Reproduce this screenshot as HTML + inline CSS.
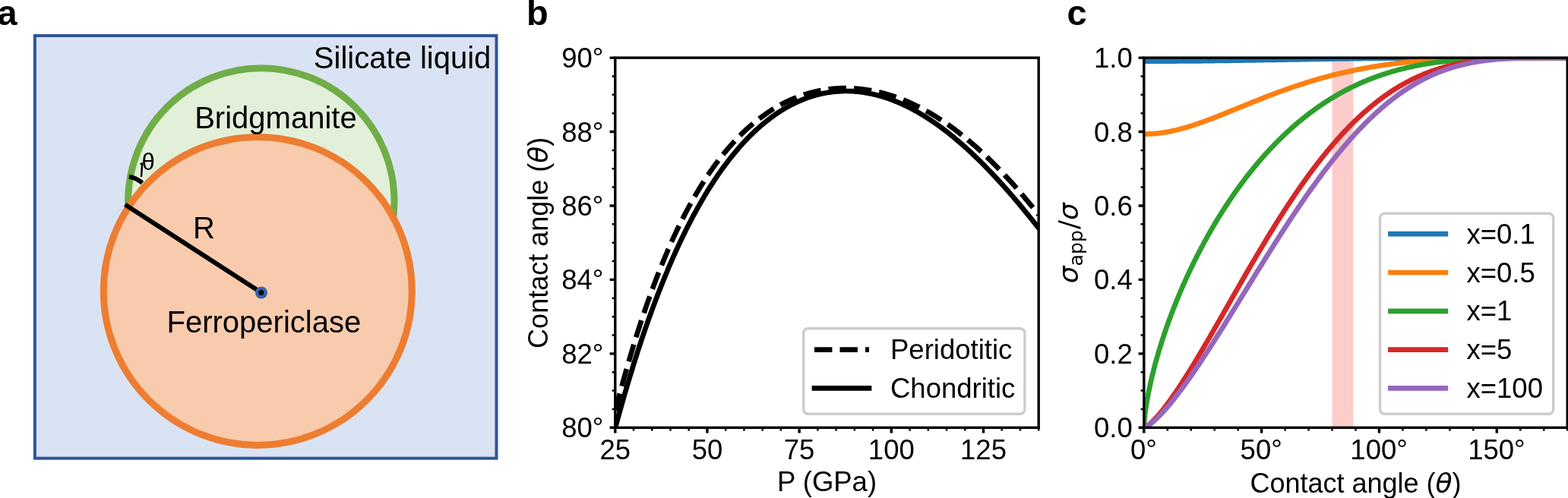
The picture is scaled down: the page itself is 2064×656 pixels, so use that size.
<!DOCTYPE html>
<html><head><meta charset="utf-8"><title>Figure</title>
<style>html,body{margin:0;padding:0;background:#fff;overflow:hidden;}svg{display:block;}</style>
</head><body>
<svg width="2064" height="656" viewBox="0 0 2064 656">
<rect width="2064" height="656" fill="#fff"/>
<g id="pa">
<rect x="45.9" y="47" width="607.6" height="556.7" fill="#DAE3F3" stroke="#2F5597" stroke-width="4"/>
<circle cx="343.8" cy="264.9" r="175.2" fill="#E2F0D9" stroke="#70AD47" stroke-width="9"/>
<circle cx="339.3" cy="383.4" r="203" fill="#F8CBAD" stroke="#ED7D31" stroke-width="9"/>
<line x1="164.6" y1="269.5" x2="344" y2="385.5" stroke="#000" stroke-width="6"/>
<circle cx="344" cy="385.5" r="8" fill="#3B62AB"/>
<circle cx="343.8" cy="385.4" r="3.5" fill="#000"/>
<path d="M170.0,232.6 A38.5,38.5 0 0 1 187.3,241.0" fill="none" stroke="#000" stroke-width="6"/>
<path d="M184.6,216.2 L188.2,215.2 M187.2,215.4 L186,233" fill="none" stroke="#000" stroke-width="2.4"/>
<g font-family="'Liberation Sans', Arial, sans-serif" font-size="40" fill="#000">
<text x="646.3" y="90.3" text-anchor="end">Silicate liquid</text>
<text x="256.2" y="169">Bridgmanite</text>
<text x="219.5" y="438.1">Ferropericlase</text>
<text x="254" y="313.9">R</text>
<text x="186.6" y="224" font-size="31">θ</text>
</g>
</g>
<g id="pb">
<clipPath id="cb"><rect x="809.8" y="76.1" width="557.4000000000001" height="487.19999999999993"/></clipPath>
<g clip-path="url(#cb)">
<path d="M809.8,541.7 L811.2,536.3 L812.6,530.9 L814.0,525.5 L815.4,520.2 L816.8,515.0 L818.2,509.8 L819.6,504.7 L821.0,499.6 L822.4,494.6 L823.8,489.6 L825.2,484.7 L826.6,479.9 L828.0,475.1 L829.4,470.3 L830.8,465.6 L832.2,460.9 L833.5,456.3 L834.9,451.7 L836.3,447.2 L837.7,442.7 L839.1,438.3 L840.5,433.9 L841.9,429.6 L843.3,425.3 L844.7,421.0 L846.1,416.8 L847.5,412.7 L848.9,408.6 L850.3,404.5 L851.7,400.5 L853.1,396.5 L854.5,392.6 L855.9,388.7 L857.3,384.8 L858.7,381.0 L860.1,377.2 L861.5,373.5 L862.9,369.8 L864.3,366.1 L865.7,362.5 L867.1,359.0 L868.5,355.4 L869.9,351.9 L871.3,348.5 L872.7,345.0 L874.1,341.7 L875.5,338.3 L876.9,335.0 L878.3,331.7 L879.6,328.5 L881.0,325.3 L882.4,322.1 L883.8,319.0 L885.2,315.9 L886.6,312.9 L888.0,309.8 L889.4,306.8 L890.8,303.9 L892.2,301.0 L893.6,298.1 L895.0,295.2 L896.4,292.4 L897.8,289.6 L899.2,286.8 L900.6,284.1 L902.0,281.4 L903.4,278.7 L904.8,276.1 L906.2,273.5 L907.6,270.9 L909.0,268.4 L910.4,265.9 L911.8,263.4 L913.2,260.9 L914.6,258.5 L916.0,256.1 L917.4,253.7 L918.8,251.4 L920.2,249.1 L921.6,246.8 L923.0,244.5 L924.4,242.3 L925.8,240.1 L927.1,237.9 L928.5,235.7 L929.9,233.6 L931.3,231.5 L932.7,229.4 L934.1,227.4 L935.5,225.4 L936.9,223.4 L938.3,221.4 L939.7,219.4 L941.1,217.5 L942.5,215.6 L943.9,213.7 L945.3,211.9 L946.7,210.0 L948.1,208.2 L949.5,206.5 L950.9,204.7 L952.3,203.0 L953.7,201.2 L955.1,199.5 L956.5,197.9 L957.9,196.2 L959.3,194.6 L960.7,193.0 L962.1,191.4 L963.5,189.8 L964.9,188.3 L966.3,186.8 L967.7,185.3 L969.1,183.8 L970.5,182.3 L971.9,180.9 L973.2,179.5 L974.6,178.1 L976.0,176.7 L977.4,175.3 L978.8,174.0 L980.2,172.6 L981.6,171.3 L983.0,170.0 L984.4,168.8 L985.8,167.5 L987.2,166.3 L988.6,165.1 L990.0,163.9 L991.4,162.7 L992.8,161.5 L994.2,160.4 L995.6,159.3 L997.0,158.2 L998.4,157.1 L999.8,156.0 L1001.2,155.0 L1002.6,153.9 L1004.0,152.9 L1005.4,151.9 L1006.8,150.9 L1008.2,149.9 L1009.6,149.0 L1011.0,148.0 L1012.4,147.1 L1013.8,146.2 L1015.2,145.3 L1016.6,144.4 L1018.0,143.5 L1019.3,142.7 L1020.7,141.9 L1022.1,141.0 L1023.5,140.2 L1024.9,139.4 L1026.3,138.7 L1027.7,137.9 L1029.1,137.2 L1030.5,136.4 L1031.9,135.7 L1033.3,135.0 L1034.7,134.3 L1036.1,133.7 L1037.5,133.0 L1038.9,132.4 L1040.3,131.7 L1041.7,131.1 L1043.1,130.5 L1044.5,129.9 L1045.9,129.3 L1047.3,128.8 L1048.7,128.2 L1050.1,127.7 L1051.5,127.2 L1052.9,126.6 L1054.3,126.2 L1055.7,125.7 L1057.1,125.2 L1058.5,124.7 L1059.9,124.3 L1061.3,123.9 L1062.7,123.4 L1064.1,123.0 L1065.4,122.6 L1066.8,122.2 L1068.2,121.9 L1069.6,121.5 L1071.0,121.2 L1072.4,120.8 L1073.8,120.5 L1075.2,120.2 L1076.6,119.9 L1078.0,119.6 L1079.4,119.3 L1080.8,119.1 L1082.2,118.8 L1083.6,118.6 L1085.0,118.3 L1086.4,118.1 L1087.8,117.9 L1089.2,117.7 L1090.6,117.5 L1092.0,117.4 L1093.4,117.2 L1094.8,117.1 L1096.2,116.9 L1097.6,116.8 L1099.0,116.7 L1100.4,116.6 L1101.8,116.5 L1103.2,116.4 L1104.6,116.3 L1106.0,116.3 L1107.4,116.2 L1108.8,116.2 L1110.2,116.2 L1111.6,116.1 L1112.9,116.1 L1114.3,116.1 L1115.7,116.2 L1117.1,116.2 L1118.5,116.2 L1119.9,116.3 L1121.3,116.3 L1122.7,116.4 L1124.1,116.5 L1125.5,116.6 L1126.9,116.7 L1128.3,116.8 L1129.7,116.9 L1131.1,117.0 L1132.5,117.2 L1133.9,117.3 L1135.3,117.5 L1136.7,117.7 L1138.1,117.9 L1139.5,118.0 L1140.9,118.3 L1142.3,118.5 L1143.7,118.7 L1145.1,118.9 L1146.5,119.2 L1147.9,119.4 L1149.3,119.7 L1150.7,120.0 L1152.1,120.3 L1153.5,120.6 L1154.9,120.9 L1156.3,121.2 L1157.7,121.5 L1159.0,121.9 L1160.4,122.2 L1161.8,122.6 L1163.2,122.9 L1164.6,123.3 L1166.0,123.7 L1167.4,124.1 L1168.8,124.5 L1170.2,124.9 L1171.6,125.4 L1173.0,125.8 L1174.4,126.3 L1175.8,126.7 L1177.2,127.2 L1178.6,127.7 L1180.0,128.2 L1181.4,128.7 L1182.8,129.2 L1184.2,129.7 L1185.6,130.2 L1187.0,130.8 L1188.4,131.3 L1189.8,131.9 L1191.2,132.5 L1192.6,133.0 L1194.0,133.6 L1195.4,134.2 L1196.8,134.8 L1198.2,135.5 L1199.6,136.1 L1201.0,136.7 L1202.4,137.4 L1203.8,138.1 L1205.1,138.7 L1206.5,139.4 L1207.9,140.1 L1209.3,140.8 L1210.7,141.5 L1212.1,142.2 L1213.5,143.0 L1214.9,143.7 L1216.3,144.5 L1217.7,145.2 L1219.1,146.0 L1220.5,146.8 L1221.9,147.6 L1223.3,148.4 L1224.7,149.2 L1226.1,150.0 L1227.5,150.8 L1228.9,151.7 L1230.3,152.5 L1231.7,153.4 L1233.1,154.3 L1234.5,155.2 L1235.9,156.1 L1237.3,157.0 L1238.7,157.9 L1240.1,158.8 L1241.5,159.7 L1242.9,160.7 L1244.3,161.6 L1245.7,162.6 L1247.1,163.6 L1248.5,164.5 L1249.9,165.5 L1251.2,166.5 L1252.6,167.5 L1254.0,168.6 L1255.4,169.6 L1256.8,170.6 L1258.2,171.7 L1259.6,172.8 L1261.0,173.8 L1262.4,174.9 L1263.8,176.0 L1265.2,177.1 L1266.6,178.2 L1268.0,179.3 L1269.4,180.5 L1270.8,181.6 L1272.2,182.8 L1273.6,183.9 L1275.0,185.1 L1276.4,186.3 L1277.8,187.5 L1279.2,188.7 L1280.6,189.9 L1282.0,191.1 L1283.4,192.3 L1284.8,193.5 L1286.2,194.8 L1287.6,196.1 L1289.0,197.3 L1290.4,198.6 L1291.8,199.9 L1293.2,201.2 L1294.6,202.5 L1296.0,203.8 L1297.4,205.1 L1298.7,206.5 L1300.1,207.8 L1301.5,209.2 L1302.9,210.5 L1304.3,211.9 L1305.7,213.3 L1307.1,214.7 L1308.5,216.1 L1309.9,217.5 L1311.3,218.9 L1312.7,220.3 L1314.1,221.8 L1315.5,223.2 L1316.9,224.7 L1318.3,226.1 L1319.7,227.6 L1321.1,229.1 L1322.5,230.6 L1323.9,232.1 L1325.3,233.6 L1326.7,235.1 L1328.1,236.6 L1329.5,238.2 L1330.9,239.7 L1332.3,241.3 L1333.7,242.8 L1335.1,244.4 L1336.5,246.0 L1337.9,247.6 L1339.3,249.2 L1340.7,250.8 L1342.1,252.4 L1343.5,254.0 L1344.8,255.6 L1346.2,257.3 L1347.6,258.9 L1349.0,260.6 L1350.4,262.3 L1351.8,263.9 L1353.2,265.6 L1354.6,267.3 L1356.0,269.0 L1357.4,270.7 L1358.8,272.4 L1360.2,274.1 L1361.6,275.8 L1363.0,277.6 L1364.4,279.3 L1365.8,281.1 L1367.2,282.8" fill="none" stroke="#000" stroke-width="6.7" stroke-dasharray="23.4 10.1" stroke-dashoffset="-0.8" stroke-linecap="butt" stroke-linejoin="round"/>
<path d="M809.8,564.1 L811.2,558.9 L812.6,553.7 L814.0,548.6 L815.4,543.5 L816.8,538.5 L818.2,533.5 L819.6,528.6 L821.0,523.7 L822.4,518.9 L823.8,514.1 L825.2,509.3 L826.6,504.6 L828.0,499.9 L829.4,495.3 L830.8,490.7 L832.2,486.2 L833.5,481.6 L834.9,477.2 L836.3,472.7 L837.7,468.4 L839.1,464.0 L840.5,459.7 L841.9,455.4 L843.3,451.2 L844.7,447.0 L846.1,442.8 L847.5,438.7 L848.9,434.6 L850.3,430.6 L851.7,426.6 L853.1,422.6 L854.5,418.7 L855.9,414.8 L857.3,410.9 L858.7,407.1 L860.1,403.3 L861.5,399.6 L862.9,395.8 L864.3,392.2 L865.7,388.5 L867.1,384.9 L868.5,381.3 L869.9,377.8 L871.3,374.2 L872.7,370.8 L874.1,367.3 L875.5,363.9 L876.9,360.5 L878.3,357.2 L879.6,353.8 L881.0,350.5 L882.4,347.3 L883.8,344.1 L885.2,340.9 L886.6,337.7 L888.0,334.6 L889.4,331.5 L890.8,328.4 L892.2,325.4 L893.6,322.4 L895.0,319.4 L896.4,316.4 L897.8,313.5 L899.2,310.6 L900.6,307.7 L902.0,304.9 L903.4,302.1 L904.8,299.3 L906.2,296.6 L907.6,293.8 L909.0,291.1 L910.4,288.5 L911.8,285.8 L913.2,283.2 L914.6,280.6 L916.0,278.1 L917.4,275.5 L918.8,273.0 L920.2,270.6 L921.6,268.1 L923.0,265.7 L924.4,263.3 L925.8,260.9 L927.1,258.5 L928.5,256.2 L929.9,253.9 L931.3,251.6 L932.7,249.4 L934.1,247.1 L935.5,244.9 L936.9,242.8 L938.3,240.6 L939.7,238.5 L941.1,236.4 L942.5,234.3 L943.9,232.2 L945.3,230.2 L946.7,228.2 L948.1,226.2 L949.5,224.2 L950.9,222.2 L952.3,220.3 L953.7,218.4 L955.1,216.5 L956.5,214.7 L957.9,212.8 L959.3,211.0 L960.7,209.2 L962.1,207.5 L963.5,205.7 L964.9,204.0 L966.3,202.3 L967.7,200.6 L969.1,198.9 L970.5,197.3 L971.9,195.6 L973.2,194.0 L974.6,192.4 L976.0,190.9 L977.4,189.3 L978.8,187.8 L980.2,186.3 L981.6,184.8 L983.0,183.4 L984.4,181.9 L985.8,180.5 L987.2,179.1 L988.6,177.7 L990.0,176.3 L991.4,175.0 L992.8,173.6 L994.2,172.3 L995.6,171.0 L997.0,169.7 L998.4,168.5 L999.8,167.2 L1001.2,166.0 L1002.6,164.8 L1004.0,163.6 L1005.4,162.5 L1006.8,161.3 L1008.2,160.2 L1009.6,159.1 L1011.0,158.0 L1012.4,156.9 L1013.8,155.8 L1015.2,154.8 L1016.6,153.8 L1018.0,152.8 L1019.3,151.8 L1020.7,150.8 L1022.1,149.8 L1023.5,148.9 L1024.9,147.9 L1026.3,147.0 L1027.7,146.1 L1029.1,145.3 L1030.5,144.4 L1031.9,143.6 L1033.3,142.7 L1034.7,141.9 L1036.1,141.1 L1037.5,140.3 L1038.9,139.6 L1040.3,138.8 L1041.7,138.1 L1043.1,137.4 L1044.5,136.7 L1045.9,136.0 L1047.3,135.3 L1048.7,134.7 L1050.1,134.0 L1051.5,133.4 L1052.9,132.8 L1054.3,132.2 L1055.7,131.6 L1057.1,131.0 L1058.5,130.5 L1059.9,129.9 L1061.3,129.4 L1062.7,128.9 L1064.1,128.4 L1065.4,127.9 L1066.8,127.5 L1068.2,127.0 L1069.6,126.6 L1071.0,126.2 L1072.4,125.8 L1073.8,125.4 L1075.2,125.0 L1076.6,124.6 L1078.0,124.3 L1079.4,124.0 L1080.8,123.6 L1082.2,123.3 L1083.6,123.0 L1085.0,122.7 L1086.4,122.5 L1087.8,122.2 L1089.2,122.0 L1090.6,121.8 L1092.0,121.6 L1093.4,121.4 L1094.8,121.2 L1096.2,121.0 L1097.6,120.8 L1099.0,120.7 L1100.4,120.6 L1101.8,120.4 L1103.2,120.3 L1104.6,120.3 L1106.0,120.2 L1107.4,120.1 L1108.8,120.1 L1110.2,120.0 L1111.6,120.0 L1112.9,120.0 L1114.3,120.0 L1115.7,120.0 L1117.1,120.0 L1118.5,120.1 L1119.9,120.1 L1121.3,120.2 L1122.7,120.2 L1124.1,120.3 L1125.5,120.4 L1126.9,120.6 L1128.3,120.7 L1129.7,120.8 L1131.1,121.0 L1132.5,121.1 L1133.9,121.3 L1135.3,121.5 L1136.7,121.7 L1138.1,121.9 L1139.5,122.1 L1140.9,122.4 L1142.3,122.6 L1143.7,122.9 L1145.1,123.2 L1146.5,123.5 L1147.9,123.7 L1149.3,124.1 L1150.7,124.4 L1152.1,124.7 L1153.5,125.1 L1154.9,125.4 L1156.3,125.8 L1157.7,126.2 L1159.0,126.6 L1160.4,127.0 L1161.8,127.4 L1163.2,127.8 L1164.6,128.3 L1166.0,128.7 L1167.4,129.2 L1168.8,129.7 L1170.2,130.2 L1171.6,130.7 L1173.0,131.2 L1174.4,131.7 L1175.8,132.2 L1177.2,132.8 L1178.6,133.3 L1180.0,133.9 L1181.4,134.5 L1182.8,135.1 L1184.2,135.7 L1185.6,136.3 L1187.0,136.9 L1188.4,137.5 L1189.8,138.2 L1191.2,138.9 L1192.6,139.5 L1194.0,140.2 L1195.4,140.9 L1196.8,141.6 L1198.2,142.3 L1199.6,143.0 L1201.0,143.8 L1202.4,144.5 L1203.8,145.3 L1205.1,146.1 L1206.5,146.8 L1207.9,147.6 L1209.3,148.4 L1210.7,149.3 L1212.1,150.1 L1213.5,150.9 L1214.9,151.8 L1216.3,152.6 L1217.7,153.5 L1219.1,154.4 L1220.5,155.3 L1221.9,156.2 L1223.3,157.1 L1224.7,158.0 L1226.1,158.9 L1227.5,159.9 L1228.9,160.8 L1230.3,161.8 L1231.7,162.8 L1233.1,163.7 L1234.5,164.7 L1235.9,165.7 L1237.3,166.8 L1238.7,167.8 L1240.1,168.8 L1241.5,169.9 L1242.9,170.9 L1244.3,172.0 L1245.7,173.1 L1247.1,174.1 L1248.5,175.2 L1249.9,176.4 L1251.2,177.5 L1252.6,178.6 L1254.0,179.7 L1255.4,180.9 L1256.8,182.0 L1258.2,183.2 L1259.6,184.4 L1261.0,185.6 L1262.4,186.8 L1263.8,188.0 L1265.2,189.2 L1266.6,190.4 L1268.0,191.6 L1269.4,192.9 L1270.8,194.1 L1272.2,195.4 L1273.6,196.7 L1275.0,197.9 L1276.4,199.2 L1277.8,200.5 L1279.2,201.8 L1280.6,203.2 L1282.0,204.5 L1283.4,205.8 L1284.8,207.2 L1286.2,208.5 L1287.6,209.9 L1289.0,211.3 L1290.4,212.6 L1291.8,214.0 L1293.2,215.4 L1294.6,216.8 L1296.0,218.2 L1297.4,219.7 L1298.7,221.1 L1300.1,222.5 L1301.5,224.0 L1302.9,225.4 L1304.3,226.9 L1305.7,228.4 L1307.1,229.9 L1308.5,231.4 L1309.9,232.9 L1311.3,234.4 L1312.7,235.9 L1314.1,237.4 L1315.5,238.9 L1316.9,240.5 L1318.3,242.0 L1319.7,243.6 L1321.1,245.1 L1322.5,246.7 L1323.9,248.3 L1325.3,249.9 L1326.7,251.4 L1328.1,253.0 L1329.5,254.6 L1330.9,256.3 L1332.3,257.9 L1333.7,259.5 L1335.1,261.1 L1336.5,262.8 L1337.9,264.4 L1339.3,266.1 L1340.7,267.7 L1342.1,269.4 L1343.5,271.1 L1344.8,272.8 L1346.2,274.4 L1347.6,276.1 L1349.0,277.8 L1350.4,279.5 L1351.8,281.3 L1353.2,283.0 L1354.6,284.7 L1356.0,286.4 L1357.4,288.2 L1358.8,289.9 L1360.2,291.6 L1361.6,293.4 L1363.0,295.1 L1364.4,296.9 L1365.8,298.7 L1367.2,300.4" fill="none" stroke="#000" stroke-width="6.7" stroke-linecap="square" stroke-linejoin="round"/>
</g>
<path d="M809.80,563.3 v7.2 M930.97,563.3 v7.2 M1052.15,563.3 v7.2 M1173.32,563.3 v7.2 M1294.50,563.3 v7.2" stroke="#000" stroke-width="3.4" fill="none"/>
<path d="M834.03,563.3 v4.2 M858.27,563.3 v4.2 M882.50,563.3 v4.2 M906.74,563.3 v4.2 M955.21,563.3 v4.2 M979.44,563.3 v4.2 M1003.68,563.3 v4.2 M1027.91,563.3 v4.2 M1076.38,563.3 v4.2 M1100.62,563.3 v4.2 M1124.85,563.3 v4.2 M1149.09,563.3 v4.2 M1197.56,563.3 v4.2 M1221.79,563.3 v4.2 M1246.03,563.3 v4.2 M1270.26,563.3 v4.2 M1318.73,563.3 v4.2 M1342.97,563.3 v4.2 M1367.20,563.3 v4.2" stroke="#000" stroke-width="2.5" fill="none"/>
<path d="M809.8,563.30 h-7.2 M809.8,465.86 h-7.2 M809.8,368.42 h-7.2 M809.8,270.98 h-7.2 M809.8,173.54 h-7.2 M809.8,76.10 h-7.2" stroke="#000" stroke-width="3.4" fill="none"/>
<path d="M809.8,538.94 h-4.2 M809.8,514.58 h-4.2 M809.8,490.22 h-4.2 M809.8,441.50 h-4.2 M809.8,417.14 h-4.2 M809.8,392.78 h-4.2 M809.8,344.06 h-4.2 M809.8,319.70 h-4.2 M809.8,295.34 h-4.2 M809.8,246.62 h-4.2 M809.8,222.26 h-4.2 M809.8,197.90 h-4.2 M809.8,149.18 h-4.2 M809.8,124.82 h-4.2 M809.8,100.46 h-4.2" stroke="#000" stroke-width="2.5" fill="none"/>
<rect x="809.8" y="76.1" width="557.40" height="487.20" fill="none" stroke="#000" stroke-width="3.4" stroke-linejoin="miter" stroke-linecap="square"/>
<rect x="1057.7" y="432.8" width="291.2" height="112.5" rx="6" ry="6" fill="#fff" fill-opacity="0.8" stroke="#cccccc" stroke-width="3.4"/>
<path d="M1072,460.6 h72" stroke="#000" stroke-width="6.7" stroke-dasharray="23.4 10.1"/>
<path d="M1072,511.4 h72" stroke="#000" stroke-width="6.7" stroke-linecap="square"/>
<g font-family="'Liberation Sans', Arial, sans-serif" font-size="36.5" fill="#000">
<text x="1172" y="472.9">Peridotitic</text>
<text x="1172" y="524.2">Chondritic</text>
<text x="809.8" y="604.8" text-anchor="middle">25</text>
<text x="931.0" y="604.8" text-anchor="middle">50</text>
<text x="1052.1" y="604.8" text-anchor="middle">75</text>
<text x="1173.3" y="604.8" text-anchor="middle">100</text>
<text x="1294.5" y="604.8" text-anchor="middle">125</text>
<text x="794.4" y="576.3" text-anchor="end">80°</text>
<text x="794.4" y="478.9" text-anchor="end">82°</text>
<text x="794.4" y="381.4" text-anchor="end">84°</text>
<text x="794.4" y="284.0" text-anchor="end">86°</text>
<text x="794.4" y="186.5" text-anchor="end">88°</text>
<text x="794.4" y="89.1" text-anchor="end">90°</text>
<text x="1088.5" y="647" text-anchor="middle">P (GPa)</text>
<text transform="translate(721,319.8) rotate(-90)" text-anchor="middle" font-size="36">Contact angle (<tspan font-family="DejaVu Sans" font-style="italic">θ</tspan>)</text>
</g>
</g>
<g id="pc">
<clipPath id="cc"><rect x="1505.8" y="76.1" width="557.3999999999999" height="487.19999999999993"/></clipPath>
<g clip-path="url(#cc)">
<rect x="1753.53" y="76.1" width="27.87" height="487.19999999999993" fill="#ffcccc"/>
<path d="M1505.8,80.7 L1506.0,80.7 L1506.1,80.7 L1506.3,80.7 L1506.4,80.7 L1506.6,80.7 L1506.7,80.7 L1506.9,80.7 L1507.0,80.7 L1507.2,80.7 L1507.3,80.7 L1507.5,80.7 L1507.7,80.7 L1507.8,80.7 L1508.0,80.7 L1508.1,80.7 L1508.3,80.7 L1508.4,80.7 L1508.6,80.7 L1508.7,80.7 L1508.9,80.7 L1509.1,80.7 L1509.2,80.7 L1509.4,80.7 L1509.5,80.7 L1509.7,80.7 L1509.8,80.7 L1510.0,80.7 L1510.1,80.7 L1510.3,80.7 L1510.4,80.7 L1510.6,80.7 L1510.8,80.7 L1510.9,80.7 L1511.1,80.7 L1511.2,80.7 L1511.4,80.7 L1511.5,80.7 L1511.7,80.7 L1511.8,80.7 L1512.0,80.7 L1512.1,80.7 L1513.1,80.7 L1514.0,80.7 L1514.9,80.7 L1515.8,80.7 L1516.7,80.7 L1517.7,80.7 L1518.6,80.7 L1519.5,80.7 L1520.4,80.7 L1521.3,80.7 L1522.3,80.7 L1523.2,80.7 L1524.1,80.7 L1525.0,80.7 L1525.9,80.7 L1526.9,80.7 L1527.8,80.7 L1528.7,80.6 L1529.6,80.6 L1530.5,80.6 L1531.5,80.6 L1532.4,80.6 L1533.3,80.6 L1534.2,80.6 L1535.1,80.6 L1536.1,80.6 L1537.0,80.6 L1537.9,80.6 L1538.8,80.6 L1539.7,80.6 L1540.7,80.6 L1541.6,80.6 L1542.5,80.6 L1543.4,80.6 L1544.3,80.6 L1545.3,80.6 L1546.2,80.6 L1547.1,80.6 L1548.0,80.6 L1548.9,80.5 L1549.9,80.5 L1550.8,80.5 L1551.7,80.5 L1552.6,80.5 L1553.5,80.5 L1554.5,80.5 L1555.4,80.5 L1556.3,80.5 L1557.2,80.5 L1558.1,80.5 L1559.1,80.5 L1560.0,80.5 L1560.9,80.5 L1561.8,80.4 L1562.7,80.4 L1563.7,80.4 L1564.6,80.4 L1565.5,80.4 L1566.4,80.4 L1567.3,80.4 L1568.3,80.4 L1569.2,80.4 L1570.1,80.4 L1571.0,80.4 L1571.9,80.4 L1572.9,80.3 L1573.8,80.3 L1574.7,80.3 L1575.6,80.3 L1576.5,80.3 L1577.5,80.3 L1578.4,80.3 L1579.3,80.3 L1580.2,80.3 L1581.1,80.3 L1582.1,80.3 L1583.0,80.2 L1583.9,80.2 L1584.8,80.2 L1585.7,80.2 L1586.7,80.2 L1587.6,80.2 L1588.5,80.2 L1589.4,80.2 L1590.3,80.2 L1591.3,80.1 L1592.2,80.1 L1593.1,80.1 L1594.0,80.1 L1594.9,80.1 L1595.9,80.1 L1596.8,80.1 L1597.7,80.1 L1598.6,80.1 L1599.5,80.0 L1600.5,80.0 L1601.4,80.0 L1602.3,80.0 L1603.2,80.0 L1604.1,80.0 L1605.1,80.0 L1606.0,80.0 L1606.9,79.9 L1607.8,79.9 L1608.7,79.9 L1609.7,79.9 L1610.6,79.9 L1611.5,79.9 L1612.4,79.9 L1613.3,79.9 L1614.3,79.8 L1615.2,79.8 L1616.1,79.8 L1617.0,79.8 L1617.9,79.8 L1618.9,79.8 L1619.8,79.8 L1620.7,79.7 L1621.6,79.7 L1622.5,79.7 L1623.5,79.7 L1624.4,79.7 L1625.3,79.7 L1626.2,79.7 L1627.1,79.7 L1628.1,79.6 L1629.0,79.6 L1629.9,79.6 L1630.8,79.6 L1631.7,79.6 L1632.7,79.6 L1633.6,79.6 L1634.5,79.5 L1635.4,79.5 L1636.3,79.5 L1637.3,79.5 L1638.2,79.5 L1639.1,79.5 L1640.0,79.5 L1640.9,79.4 L1641.9,79.4 L1642.8,79.4 L1643.7,79.4 L1644.6,79.4 L1645.5,79.4 L1646.5,79.3 L1647.4,79.3 L1648.3,79.3 L1649.2,79.3 L1650.1,79.3 L1651.1,79.3 L1652.0,79.3 L1652.9,79.2 L1653.8,79.2 L1654.7,79.2 L1655.7,79.2 L1656.6,79.2 L1657.5,79.2 L1658.4,79.1 L1659.3,79.1 L1660.3,79.1 L1661.2,79.1 L1662.1,79.1 L1663.0,79.1 L1663.9,79.1 L1664.9,79.0 L1665.8,79.0 L1666.7,79.0 L1667.6,79.0 L1668.5,79.0 L1669.5,79.0 L1670.4,78.9 L1671.3,78.9 L1672.2,78.9 L1673.1,78.9 L1674.1,78.9 L1675.0,78.9 L1675.9,78.9 L1676.8,78.8 L1677.7,78.8 L1678.7,78.8 L1679.6,78.8 L1680.5,78.8 L1681.4,78.8 L1682.3,78.7 L1683.3,78.7 L1684.2,78.7 L1685.1,78.7 L1686.0,78.7 L1686.9,78.7 L1687.9,78.6 L1688.8,78.6 L1689.7,78.6 L1690.6,78.6 L1691.5,78.6 L1692.5,78.6 L1693.4,78.6 L1694.3,78.5 L1695.2,78.5 L1696.1,78.5 L1697.1,78.5 L1698.0,78.5 L1698.9,78.5 L1699.8,78.4 L1700.7,78.4 L1701.7,78.4 L1702.6,78.4 L1703.5,78.4 L1704.4,78.4 L1705.3,78.4 L1706.3,78.3 L1707.2,78.3 L1708.1,78.3 L1709.0,78.3 L1709.9,78.3 L1710.9,78.3 L1711.8,78.2 L1712.7,78.2 L1713.6,78.2 L1714.5,78.2 L1715.5,78.2 L1716.4,78.2 L1717.3,78.2 L1718.2,78.1 L1719.1,78.1 L1720.1,78.1 L1721.0,78.1 L1721.9,78.1 L1722.8,78.1 L1723.7,78.0 L1724.7,78.0 L1725.6,78.0 L1726.5,78.0 L1727.4,78.0 L1728.3,78.0 L1729.3,78.0 L1730.2,77.9 L1731.1,77.9 L1732.0,77.9 L1732.9,77.9 L1733.9,77.9 L1734.8,77.9 L1735.7,77.9 L1736.6,77.8 L1737.5,77.8 L1738.5,77.8 L1739.4,77.8 L1740.3,77.8 L1741.2,77.8 L1742.1,77.8 L1743.1,77.7 L1744.0,77.7 L1744.9,77.7 L1745.8,77.7 L1746.7,77.7 L1747.7,77.7 L1748.6,77.7 L1749.5,77.6 L1750.4,77.6 L1751.3,77.6 L1752.3,77.6 L1753.2,77.6 L1754.1,77.6 L1755.0,77.6 L1755.9,77.6 L1756.9,77.5 L1757.8,77.5 L1758.7,77.5 L1759.6,77.5 L1760.5,77.5 L1761.5,77.5 L1762.4,77.5 L1763.3,77.4 L1764.2,77.4 L1765.1,77.4 L1766.1,77.4 L1767.0,77.4 L1767.9,77.4 L1768.8,77.4 L1769.7,77.4 L1770.7,77.3 L1771.6,77.3 L1772.5,77.3 L1773.4,77.3 L1774.3,77.3 L1775.3,77.3 L1776.2,77.3 L1777.1,77.3 L1778.0,77.2 L1778.9,77.2 L1779.9,77.2 L1780.8,77.2 L1781.7,77.2 L1782.6,77.2 L1783.5,77.2 L1784.5,77.2 L1785.4,77.2 L1786.3,77.1 L1787.2,77.1 L1788.1,77.1 L1789.1,77.1 L1790.0,77.1 L1790.9,77.1 L1791.8,77.1 L1792.7,77.1 L1793.7,77.1 L1794.6,77.0 L1795.5,77.0 L1796.4,77.0 L1797.3,77.0 L1798.3,77.0 L1799.2,77.0 L1800.1,77.0 L1801.0,77.0 L1801.9,77.0 L1802.9,77.0 L1803.8,76.9 L1804.7,76.9 L1805.6,76.9 L1806.5,76.9 L1807.5,76.9 L1808.4,76.9 L1809.3,76.9 L1810.2,76.9 L1811.1,76.9 L1812.1,76.9 L1813.0,76.8 L1813.9,76.8 L1814.8,76.8 L1815.7,76.8 L1816.7,76.8 L1817.6,76.8 L1818.5,76.8 L1819.4,76.8 L1820.3,76.8 L1821.3,76.8 L1822.2,76.8 L1823.1,76.7 L1824.0,76.7 L1824.9,76.7 L1825.9,76.7 L1826.8,76.7 L1827.7,76.7 L1828.6,76.7 L1829.5,76.7 L1830.5,76.7 L1831.4,76.7 L1832.3,76.7 L1833.2,76.7 L1834.1,76.6 L1835.1,76.6 L1836.0,76.6 L1836.9,76.6 L1837.8,76.6 L1838.7,76.6 L1839.7,76.6 L1840.6,76.6 L1841.5,76.6 L1842.4,76.6 L1843.3,76.6 L1844.3,76.6 L1845.2,76.6 L1846.1,76.6 L1847.0,76.5 L1847.9,76.5 L1848.9,76.5 L1849.8,76.5 L1850.7,76.5 L1851.6,76.5 L1852.5,76.5 L1853.5,76.5 L1854.4,76.5 L1855.3,76.5 L1856.2,76.5 L1857.1,76.5 L1858.1,76.5 L1859.0,76.5 L1859.9,76.5 L1860.8,76.5 L1861.7,76.4 L1862.7,76.4 L1863.6,76.4 L1864.5,76.4 L1865.4,76.4 L1866.3,76.4 L1867.3,76.4 L1868.2,76.4 L1869.1,76.4 L1870.0,76.4 L1870.9,76.4 L1871.8,76.4 L1872.8,76.4 L1873.7,76.4 L1874.6,76.4 L1875.5,76.4 L1876.4,76.4 L1877.4,76.4 L1878.3,76.4 L1879.2,76.3 L1880.1,76.3 L1881.0,76.3 L1882.0,76.3 L1882.9,76.3 L1883.8,76.3 L1884.7,76.3 L1885.6,76.3 L1886.6,76.3 L1887.5,76.3 L1888.4,76.3 L1889.3,76.3 L1890.2,76.3 L1891.2,76.3 L1892.1,76.3 L1893.0,76.3 L1893.9,76.3 L1894.8,76.3 L1895.8,76.3 L1896.7,76.3 L1897.6,76.3 L1898.5,76.3 L1899.4,76.3 L1900.4,76.3 L1901.3,76.3 L1902.2,76.3 L1903.1,76.2 L1904.0,76.2 L1905.0,76.2 L1905.9,76.2 L1906.8,76.2 L1907.7,76.2 L1908.6,76.2 L1909.6,76.2 L1910.5,76.2 L1911.4,76.2 L1912.3,76.2 L1913.2,76.2 L1914.2,76.2 L1915.1,76.2 L1916.0,76.2 L1916.9,76.2 L1917.8,76.2 L1918.8,76.2 L1919.7,76.2 L1920.6,76.2 L1921.5,76.2 L1922.4,76.2 L1923.4,76.2 L1924.3,76.2 L1925.2,76.2 L1926.1,76.2 L1927.0,76.2 L1928.0,76.2 L1928.9,76.2 L1929.8,76.2 L1930.7,76.2 L1931.6,76.2 L1932.6,76.2 L1933.5,76.2 L1934.4,76.2 L1935.3,76.2 L1936.2,76.2 L1937.2,76.2 L1938.1,76.2 L1939.0,76.2 L1939.9,76.2 L1940.8,76.2 L1941.8,76.2 L1942.7,76.2 L1943.6,76.1 L1944.5,76.1 L1945.4,76.1 L1946.4,76.1 L1947.3,76.1 L1948.2,76.1 L1949.1,76.1 L1950.0,76.1 L1951.0,76.1 L1951.9,76.1 L1952.8,76.1 L1953.7,76.1 L1954.6,76.1 L1955.6,76.1 L1956.5,76.1 L1957.4,76.1 L1958.3,76.1 L1959.2,76.1 L1960.2,76.1 L1961.1,76.1 L1962.0,76.1 L1962.9,76.1 L1963.8,76.1 L1964.8,76.1 L1965.7,76.1 L1966.6,76.1 L1967.5,76.1 L1968.4,76.1 L1969.4,76.1 L1970.3,76.1 L1971.2,76.1 L1972.1,76.1 L1973.0,76.1 L1974.0,76.1 L1974.9,76.1 L1975.8,76.1 L1976.7,76.1 L1977.6,76.1 L1978.6,76.1 L1979.5,76.1 L1980.4,76.1 L1981.3,76.1 L1982.2,76.1 L1983.2,76.1 L1984.1,76.1 L1985.0,76.1 L1985.9,76.1 L1986.8,76.1 L1987.8,76.1 L1988.7,76.1 L1989.6,76.1 L1990.5,76.1 L1991.4,76.1 L1992.4,76.1 L1993.3,76.1 L1994.2,76.1 L1995.1,76.1 L1996.0,76.1 L1997.0,76.1 L1997.9,76.1 L1998.8,76.1 L1999.7,76.1 L2000.6,76.1 L2001.6,76.1 L2002.5,76.1 L2003.4,76.1 L2004.3,76.1 L2005.2,76.1 L2006.2,76.1 L2007.1,76.1 L2008.0,76.1 L2008.9,76.1 L2009.8,76.1 L2010.8,76.1 L2011.7,76.1 L2012.6,76.1 L2013.5,76.1 L2014.4,76.1 L2015.4,76.1 L2016.3,76.1 L2017.2,76.1 L2018.1,76.1 L2019.0,76.1 L2020.0,76.1 L2020.9,76.1 L2021.8,76.1 L2022.7,76.1 L2023.6,76.1 L2024.6,76.1 L2025.5,76.1 L2026.4,76.1 L2027.3,76.1 L2028.2,76.1 L2029.2,76.1 L2030.1,76.1 L2031.0,76.1 L2031.9,76.1 L2032.8,76.1 L2033.8,76.1 L2034.7,76.1 L2035.6,76.1 L2036.5,76.1 L2037.4,76.1 L2038.4,76.1 L2039.3,76.1 L2040.2,76.1 L2041.1,76.1 L2042.0,76.1 L2043.0,76.1 L2043.9,76.1 L2044.8,76.1 L2045.7,76.1 L2046.6,76.1 L2047.6,76.1 L2048.5,76.1 L2049.4,76.1 L2050.3,76.1 L2051.2,76.1 L2052.2,76.1 L2053.1,76.1 L2054.0,76.1 L2054.9,76.1 L2055.8,76.1 L2056.8,76.1 L2057.7,76.1 L2058.6,76.1 L2059.5,76.1 L2060.4,76.1 L2061.4,76.1 L2062.3,76.1 L2063.2,76.1" fill="none" stroke="#1f77b4" stroke-width="6.7" stroke-linecap="square" stroke-linejoin="round"/>
<path d="M1505.8,176.6 L1506.0,176.6 L1506.1,176.6 L1506.3,176.6 L1506.4,176.6 L1506.6,176.6 L1506.7,176.6 L1506.9,176.6 L1507.0,176.6 L1507.2,176.6 L1507.3,176.6 L1507.5,176.6 L1507.7,176.6 L1507.8,176.6 L1508.0,176.6 L1508.1,176.6 L1508.3,176.6 L1508.4,176.6 L1508.6,176.6 L1508.7,176.6 L1508.9,176.6 L1509.1,176.6 L1509.2,176.6 L1509.4,176.6 L1509.5,176.6 L1509.7,176.6 L1509.8,176.6 L1510.0,176.6 L1510.1,176.6 L1510.3,176.5 L1510.4,176.5 L1510.6,176.5 L1510.8,176.5 L1510.9,176.5 L1511.1,176.5 L1511.2,176.5 L1511.4,176.5 L1511.5,176.5 L1511.7,176.5 L1511.8,176.5 L1512.0,176.5 L1512.1,176.5 L1513.1,176.4 L1514.0,176.4 L1514.9,176.4 L1515.8,176.3 L1516.7,176.2 L1517.7,176.2 L1518.6,176.1 L1519.5,176.0 L1520.4,176.0 L1521.3,175.9 L1522.3,175.8 L1523.2,175.7 L1524.1,175.6 L1525.0,175.5 L1525.9,175.4 L1526.9,175.3 L1527.8,175.1 L1528.7,175.0 L1529.6,174.9 L1530.5,174.8 L1531.5,174.6 L1532.4,174.5 L1533.3,174.3 L1534.2,174.2 L1535.1,174.0 L1536.1,173.9 L1537.0,173.7 L1537.9,173.5 L1538.8,173.4 L1539.7,173.2 L1540.7,173.0 L1541.6,172.8 L1542.5,172.6 L1543.4,172.4 L1544.3,172.2 L1545.3,172.0 L1546.2,171.8 L1547.1,171.6 L1548.0,171.4 L1548.9,171.2 L1549.9,170.9 L1550.8,170.7 L1551.7,170.5 L1552.6,170.2 L1553.5,170.0 L1554.5,169.8 L1555.4,169.5 L1556.3,169.3 L1557.2,169.0 L1558.1,168.8 L1559.1,168.5 L1560.0,168.2 L1560.9,168.0 L1561.8,167.7 L1562.7,167.4 L1563.7,167.1 L1564.6,166.9 L1565.5,166.6 L1566.4,166.3 L1567.3,166.0 L1568.3,165.7 L1569.2,165.4 L1570.1,165.1 L1571.0,164.8 L1571.9,164.5 L1572.9,164.2 L1573.8,163.9 L1574.7,163.6 L1575.6,163.3 L1576.5,163.0 L1577.5,162.7 L1578.4,162.4 L1579.3,162.0 L1580.2,161.7 L1581.1,161.4 L1582.1,161.1 L1583.0,160.7 L1583.9,160.4 L1584.8,160.1 L1585.7,159.7 L1586.7,159.4 L1587.6,159.1 L1588.5,158.7 L1589.4,158.4 L1590.3,158.0 L1591.3,157.7 L1592.2,157.3 L1593.1,157.0 L1594.0,156.6 L1594.9,156.3 L1595.9,155.9 L1596.8,155.6 L1597.7,155.2 L1598.6,154.9 L1599.5,154.5 L1600.5,154.1 L1601.4,153.8 L1602.3,153.4 L1603.2,153.1 L1604.1,152.7 L1605.1,152.3 L1606.0,152.0 L1606.9,151.6 L1607.8,151.2 L1608.7,150.9 L1609.7,150.5 L1610.6,150.1 L1611.5,149.8 L1612.4,149.4 L1613.3,149.0 L1614.3,148.7 L1615.2,148.3 L1616.1,147.9 L1617.0,147.5 L1617.9,147.2 L1618.9,146.8 L1619.8,146.4 L1620.7,146.0 L1621.6,145.7 L1622.5,145.3 L1623.5,144.9 L1624.4,144.5 L1625.3,144.2 L1626.2,143.8 L1627.1,143.4 L1628.1,143.0 L1629.0,142.7 L1629.9,142.3 L1630.8,141.9 L1631.7,141.5 L1632.7,141.2 L1633.6,140.8 L1634.5,140.4 L1635.4,140.0 L1636.3,139.7 L1637.3,139.3 L1638.2,138.9 L1639.1,138.5 L1640.0,138.2 L1640.9,137.8 L1641.9,137.4 L1642.8,137.0 L1643.7,136.7 L1644.6,136.3 L1645.5,135.9 L1646.5,135.5 L1647.4,135.2 L1648.3,134.8 L1649.2,134.4 L1650.1,134.1 L1651.1,133.7 L1652.0,133.3 L1652.9,133.0 L1653.8,132.6 L1654.7,132.2 L1655.7,131.9 L1656.6,131.5 L1657.5,131.1 L1658.4,130.8 L1659.3,130.4 L1660.3,130.0 L1661.2,129.7 L1662.1,129.3 L1663.0,129.0 L1663.9,128.6 L1664.9,128.2 L1665.8,127.9 L1666.7,127.5 L1667.6,127.2 L1668.5,126.8 L1669.5,126.5 L1670.4,126.1 L1671.3,125.8 L1672.2,125.4 L1673.1,125.1 L1674.1,124.7 L1675.0,124.4 L1675.9,124.0 L1676.8,123.7 L1677.7,123.3 L1678.7,123.0 L1679.6,122.6 L1680.5,122.3 L1681.4,121.9 L1682.3,121.6 L1683.3,121.3 L1684.2,120.9 L1685.1,120.6 L1686.0,120.3 L1686.9,119.9 L1687.9,119.6 L1688.8,119.3 L1689.7,118.9 L1690.6,118.6 L1691.5,118.3 L1692.5,117.9 L1693.4,117.6 L1694.3,117.3 L1695.2,117.0 L1696.1,116.6 L1697.1,116.3 L1698.0,116.0 L1698.9,115.7 L1699.8,115.4 L1700.7,115.1 L1701.7,114.7 L1702.6,114.4 L1703.5,114.1 L1704.4,113.8 L1705.3,113.5 L1706.3,113.2 L1707.2,112.9 L1708.1,112.6 L1709.0,112.3 L1709.9,112.0 L1710.9,111.7 L1711.8,111.4 L1712.7,111.1 L1713.6,110.8 L1714.5,110.5 L1715.5,110.2 L1716.4,109.9 L1717.3,109.6 L1718.2,109.3 L1719.1,109.0 L1720.1,108.7 L1721.0,108.4 L1721.9,108.2 L1722.8,107.9 L1723.7,107.6 L1724.7,107.3 L1725.6,107.0 L1726.5,106.7 L1727.4,106.5 L1728.3,106.2 L1729.3,105.9 L1730.2,105.7 L1731.1,105.4 L1732.0,105.1 L1732.9,104.8 L1733.9,104.6 L1734.8,104.3 L1735.7,104.0 L1736.6,103.8 L1737.5,103.5 L1738.5,103.3 L1739.4,103.0 L1740.3,102.7 L1741.2,102.5 L1742.1,102.2 L1743.1,102.0 L1744.0,101.7 L1744.9,101.5 L1745.8,101.2 L1746.7,101.0 L1747.7,100.7 L1748.6,100.5 L1749.5,100.3 L1750.4,100.0 L1751.3,99.8 L1752.3,99.5 L1753.2,99.3 L1754.1,99.1 L1755.0,98.8 L1755.9,98.6 L1756.9,98.4 L1757.8,98.2 L1758.7,97.9 L1759.6,97.7 L1760.5,97.5 L1761.5,97.3 L1762.4,97.0 L1763.3,96.8 L1764.2,96.6 L1765.1,96.4 L1766.1,96.2 L1767.0,95.9 L1767.9,95.7 L1768.8,95.5 L1769.7,95.3 L1770.7,95.1 L1771.6,94.9 L1772.5,94.7 L1773.4,94.5 L1774.3,94.3 L1775.3,94.1 L1776.2,93.9 L1777.1,93.7 L1778.0,93.5 L1778.9,93.3 L1779.9,93.1 L1780.8,92.9 L1781.7,92.7 L1782.6,92.5 L1783.5,92.3 L1784.5,92.1 L1785.4,92.0 L1786.3,91.8 L1787.2,91.6 L1788.1,91.4 L1789.1,91.2 L1790.0,91.0 L1790.9,90.9 L1791.8,90.7 L1792.7,90.5 L1793.7,90.3 L1794.6,90.2 L1795.5,90.0 L1796.4,89.8 L1797.3,89.7 L1798.3,89.5 L1799.2,89.3 L1800.1,89.2 L1801.0,89.0 L1801.9,88.8 L1802.9,88.7 L1803.8,88.5 L1804.7,88.4 L1805.6,88.2 L1806.5,88.1 L1807.5,87.9 L1808.4,87.7 L1809.3,87.6 L1810.2,87.4 L1811.1,87.3 L1812.1,87.2 L1813.0,87.0 L1813.9,86.9 L1814.8,86.7 L1815.7,86.6 L1816.7,86.4 L1817.6,86.3 L1818.5,86.2 L1819.4,86.0 L1820.3,85.9 L1821.3,85.8 L1822.2,85.6 L1823.1,85.5 L1824.0,85.4 L1824.9,85.2 L1825.9,85.1 L1826.8,85.0 L1827.7,84.9 L1828.6,84.7 L1829.5,84.6 L1830.5,84.5 L1831.4,84.4 L1832.3,84.2 L1833.2,84.1 L1834.1,84.0 L1835.1,83.9 L1836.0,83.8 L1836.9,83.7 L1837.8,83.5 L1838.7,83.4 L1839.7,83.3 L1840.6,83.2 L1841.5,83.1 L1842.4,83.0 L1843.3,82.9 L1844.3,82.8 L1845.2,82.7 L1846.1,82.6 L1847.0,82.5 L1847.9,82.4 L1848.9,82.3 L1849.8,82.2 L1850.7,82.1 L1851.6,82.0 L1852.5,81.9 L1853.5,81.8 L1854.4,81.7 L1855.3,81.6 L1856.2,81.5 L1857.1,81.4 L1858.1,81.4 L1859.0,81.3 L1859.9,81.2 L1860.8,81.1 L1861.7,81.0 L1862.7,80.9 L1863.6,80.8 L1864.5,80.8 L1865.4,80.7 L1866.3,80.6 L1867.3,80.5 L1868.2,80.4 L1869.1,80.4 L1870.0,80.3 L1870.9,80.2 L1871.8,80.1 L1872.8,80.1 L1873.7,80.0 L1874.6,79.9 L1875.5,79.9 L1876.4,79.8 L1877.4,79.7 L1878.3,79.7 L1879.2,79.6 L1880.1,79.5 L1881.0,79.5 L1882.0,79.4 L1882.9,79.3 L1883.8,79.3 L1884.7,79.2 L1885.6,79.2 L1886.6,79.1 L1887.5,79.0 L1888.4,79.0 L1889.3,78.9 L1890.2,78.9 L1891.2,78.8 L1892.1,78.8 L1893.0,78.7 L1893.9,78.6 L1894.8,78.6 L1895.8,78.5 L1896.7,78.5 L1897.6,78.4 L1898.5,78.4 L1899.4,78.3 L1900.4,78.3 L1901.3,78.2 L1902.2,78.2 L1903.1,78.2 L1904.0,78.1 L1905.0,78.1 L1905.9,78.0 L1906.8,78.0 L1907.7,77.9 L1908.6,77.9 L1909.6,77.9 L1910.5,77.8 L1911.4,77.8 L1912.3,77.7 L1913.2,77.7 L1914.2,77.7 L1915.1,77.6 L1916.0,77.6 L1916.9,77.6 L1917.8,77.5 L1918.8,77.5 L1919.7,77.4 L1920.6,77.4 L1921.5,77.4 L1922.4,77.4 L1923.4,77.3 L1924.3,77.3 L1925.2,77.3 L1926.1,77.2 L1927.0,77.2 L1928.0,77.2 L1928.9,77.1 L1929.8,77.1 L1930.7,77.1 L1931.6,77.1 L1932.6,77.0 L1933.5,77.0 L1934.4,77.0 L1935.3,77.0 L1936.2,76.9 L1937.2,76.9 L1938.1,76.9 L1939.0,76.9 L1939.9,76.8 L1940.8,76.8 L1941.8,76.8 L1942.7,76.8 L1943.6,76.8 L1944.5,76.7 L1945.4,76.7 L1946.4,76.7 L1947.3,76.7 L1948.2,76.7 L1949.1,76.7 L1950.0,76.6 L1951.0,76.6 L1951.9,76.6 L1952.8,76.6 L1953.7,76.6 L1954.6,76.6 L1955.6,76.5 L1956.5,76.5 L1957.4,76.5 L1958.3,76.5 L1959.2,76.5 L1960.2,76.5 L1961.1,76.5 L1962.0,76.4 L1962.9,76.4 L1963.8,76.4 L1964.8,76.4 L1965.7,76.4 L1966.6,76.4 L1967.5,76.4 L1968.4,76.4 L1969.4,76.4 L1970.3,76.3 L1971.2,76.3 L1972.1,76.3 L1973.0,76.3 L1974.0,76.3 L1974.9,76.3 L1975.8,76.3 L1976.7,76.3 L1977.6,76.3 L1978.6,76.3 L1979.5,76.3 L1980.4,76.3 L1981.3,76.2 L1982.2,76.2 L1983.2,76.2 L1984.1,76.2 L1985.0,76.2 L1985.9,76.2 L1986.8,76.2 L1987.8,76.2 L1988.7,76.2 L1989.6,76.2 L1990.5,76.2 L1991.4,76.2 L1992.4,76.2 L1993.3,76.2 L1994.2,76.2 L1995.1,76.2 L1996.0,76.2 L1997.0,76.2 L1997.9,76.2 L1998.8,76.2 L1999.7,76.2 L2000.6,76.2 L2001.6,76.1 L2002.5,76.1 L2003.4,76.1 L2004.3,76.1 L2005.2,76.1 L2006.2,76.1 L2007.1,76.1 L2008.0,76.1 L2008.9,76.1 L2009.8,76.1 L2010.8,76.1 L2011.7,76.1 L2012.6,76.1 L2013.5,76.1 L2014.4,76.1 L2015.4,76.1 L2016.3,76.1 L2017.2,76.1 L2018.1,76.1 L2019.0,76.1 L2020.0,76.1 L2020.9,76.1 L2021.8,76.1 L2022.7,76.1 L2023.6,76.1 L2024.6,76.1 L2025.5,76.1 L2026.4,76.1 L2027.3,76.1 L2028.2,76.1 L2029.2,76.1 L2030.1,76.1 L2031.0,76.1 L2031.9,76.1 L2032.8,76.1 L2033.8,76.1 L2034.7,76.1 L2035.6,76.1 L2036.5,76.1 L2037.4,76.1 L2038.4,76.1 L2039.3,76.1 L2040.2,76.1 L2041.1,76.1 L2042.0,76.1 L2043.0,76.1 L2043.9,76.1 L2044.8,76.1 L2045.7,76.1 L2046.6,76.1 L2047.6,76.1 L2048.5,76.1 L2049.4,76.1 L2050.3,76.1 L2051.2,76.1 L2052.2,76.1 L2053.1,76.1 L2054.0,76.1 L2054.9,76.1 L2055.8,76.1 L2056.8,76.1 L2057.7,76.1 L2058.6,76.1 L2059.5,76.1 L2060.4,76.1 L2061.4,76.1 L2062.3,76.1 L2063.2,76.1" fill="none" stroke="#ff7f0e" stroke-width="6.7" stroke-linecap="square" stroke-linejoin="round"/>
<path d="M1505.8,563.3 L1506.0,559.3 L1506.1,556.9 L1506.3,554.9 L1506.4,553.1 L1506.6,551.5 L1506.7,550.0 L1506.9,548.5 L1507.0,547.1 L1507.2,545.8 L1507.3,544.6 L1507.5,543.3 L1507.7,542.1 L1507.8,541.0 L1508.0,539.9 L1508.1,538.7 L1508.3,537.7 L1508.4,536.6 L1508.6,535.6 L1508.7,534.6 L1508.9,533.6 L1509.1,532.6 L1509.2,531.6 L1509.4,530.7 L1509.5,529.7 L1509.7,528.8 L1509.8,527.9 L1510.0,527.0 L1510.1,526.1 L1510.3,525.3 L1510.4,524.4 L1510.6,523.5 L1510.8,522.7 L1510.9,521.8 L1511.1,521.0 L1511.2,520.2 L1511.4,519.4 L1511.5,518.6 L1511.7,517.8 L1511.8,517.0 L1512.0,516.2 L1512.1,515.4 L1513.1,510.9 L1514.0,506.6 L1514.9,502.5 L1515.8,498.5 L1516.7,494.7 L1517.7,490.9 L1518.6,487.3 L1519.5,483.7 L1520.4,480.2 L1521.3,476.8 L1522.3,473.5 L1523.2,470.3 L1524.1,467.1 L1525.0,463.9 L1525.9,460.9 L1526.9,457.8 L1527.8,454.9 L1528.7,451.9 L1529.6,449.0 L1530.5,446.2 L1531.5,443.4 L1532.4,440.6 L1533.3,437.9 L1534.2,435.2 L1535.1,432.5 L1536.1,429.9 L1537.0,427.3 L1537.9,424.7 L1538.8,422.2 L1539.7,419.7 L1540.7,417.2 L1541.6,414.7 L1542.5,412.3 L1543.4,409.9 L1544.3,407.5 L1545.3,405.1 L1546.2,402.8 L1547.1,400.5 L1548.0,398.2 L1548.9,395.9 L1549.9,393.6 L1550.8,391.4 L1551.7,389.2 L1552.6,387.0 L1553.5,384.8 L1554.5,382.7 L1555.4,380.5 L1556.3,378.4 L1557.2,376.3 L1558.1,374.2 L1559.1,372.1 L1560.0,370.1 L1560.9,368.0 L1561.8,366.0 L1562.7,364.0 L1563.7,362.0 L1564.6,360.0 L1565.5,358.1 L1566.4,356.1 L1567.3,354.2 L1568.3,352.3 L1569.2,350.4 L1570.1,348.5 L1571.0,346.6 L1571.9,344.7 L1572.9,342.9 L1573.8,341.0 L1574.7,339.2 L1575.6,337.4 L1576.5,335.6 L1577.5,333.8 L1578.4,332.0 L1579.3,330.2 L1580.2,328.5 L1581.1,326.7 L1582.1,325.0 L1583.0,323.3 L1583.9,321.5 L1584.8,319.8 L1585.7,318.1 L1586.7,316.5 L1587.6,314.8 L1588.5,313.1 L1589.4,311.5 L1590.3,309.8 L1591.3,308.2 L1592.2,306.6 L1593.1,305.0 L1594.0,303.4 L1594.9,301.8 L1595.9,300.2 L1596.8,298.6 L1597.7,297.1 L1598.6,295.5 L1599.5,294.0 L1600.5,292.4 L1601.4,290.9 L1602.3,289.4 L1603.2,287.9 L1604.1,286.4 L1605.1,284.9 L1606.0,283.4 L1606.9,281.9 L1607.8,280.5 L1608.7,279.0 L1609.7,277.6 L1610.6,276.1 L1611.5,274.7 L1612.4,273.3 L1613.3,271.9 L1614.3,270.5 L1615.2,269.1 L1616.1,267.7 L1617.0,266.3 L1617.9,264.9 L1618.9,263.5 L1619.8,262.2 L1620.7,260.8 L1621.6,259.5 L1622.5,258.2 L1623.5,256.8 L1624.4,255.5 L1625.3,254.2 L1626.2,252.9 L1627.1,251.6 L1628.1,250.3 L1629.0,249.0 L1629.9,247.7 L1630.8,246.5 L1631.7,245.2 L1632.7,243.9 L1633.6,242.7 L1634.5,241.4 L1635.4,240.2 L1636.3,239.0 L1637.3,237.8 L1638.2,236.5 L1639.1,235.3 L1640.0,234.1 L1640.9,232.9 L1641.9,231.8 L1642.8,230.6 L1643.7,229.4 L1644.6,228.2 L1645.5,227.1 L1646.5,225.9 L1647.4,224.8 L1648.3,223.6 L1649.2,222.5 L1650.1,221.4 L1651.1,220.2 L1652.0,219.1 L1652.9,218.0 L1653.8,216.9 L1654.7,215.8 L1655.7,214.7 L1656.6,213.6 L1657.5,212.5 L1658.4,211.5 L1659.3,210.4 L1660.3,209.3 L1661.2,208.3 L1662.1,207.2 L1663.0,206.2 L1663.9,205.2 L1664.9,204.1 L1665.8,203.1 L1666.7,202.1 L1667.6,201.1 L1668.5,200.1 L1669.5,199.1 L1670.4,198.1 L1671.3,197.1 L1672.2,196.1 L1673.1,195.1 L1674.1,194.1 L1675.0,193.2 L1675.9,192.2 L1676.8,191.2 L1677.7,190.3 L1678.7,189.3 L1679.6,188.4 L1680.5,187.5 L1681.4,186.5 L1682.3,185.6 L1683.3,184.7 L1684.2,183.8 L1685.1,182.9 L1686.0,182.0 L1686.9,181.1 L1687.9,180.2 L1688.8,179.3 L1689.7,178.4 L1690.6,177.5 L1691.5,176.7 L1692.5,175.8 L1693.4,174.9 L1694.3,174.1 L1695.2,173.2 L1696.1,172.4 L1697.1,171.5 L1698.0,170.7 L1698.9,169.9 L1699.8,169.1 L1700.7,168.2 L1701.7,167.4 L1702.6,166.6 L1703.5,165.8 L1704.4,165.0 L1705.3,164.2 L1706.3,163.4 L1707.2,162.6 L1708.1,161.9 L1709.0,161.1 L1709.9,160.3 L1710.9,159.5 L1711.8,158.8 L1712.7,158.0 L1713.6,157.3 L1714.5,156.5 L1715.5,155.8 L1716.4,155.0 L1717.3,154.3 L1718.2,153.6 L1719.1,152.9 L1720.1,152.1 L1721.0,151.4 L1721.9,150.7 L1722.8,150.0 L1723.7,149.3 L1724.7,148.6 L1725.6,147.9 L1726.5,147.2 L1727.4,146.6 L1728.3,145.9 L1729.3,145.2 L1730.2,144.5 L1731.1,143.9 L1732.0,143.2 L1732.9,142.6 L1733.9,141.9 L1734.8,141.3 L1735.7,140.6 L1736.6,140.0 L1737.5,139.3 L1738.5,138.7 L1739.4,138.1 L1740.3,137.5 L1741.2,136.9 L1742.1,136.2 L1743.1,135.6 L1744.0,135.0 L1744.9,134.4 L1745.8,133.8 L1746.7,133.2 L1747.7,132.7 L1748.6,132.1 L1749.5,131.5 L1750.4,130.9 L1751.3,130.3 L1752.3,129.8 L1753.2,129.2 L1754.1,128.7 L1755.0,128.1 L1755.9,127.6 L1756.9,127.0 L1757.8,126.5 L1758.7,125.9 L1759.6,125.4 L1760.5,124.9 L1761.5,124.3 L1762.4,123.8 L1763.3,123.3 L1764.2,122.8 L1765.1,122.3 L1766.1,121.8 L1767.0,121.3 L1767.9,120.8 L1768.8,120.3 L1769.7,119.8 L1770.7,119.3 L1771.6,118.8 L1772.5,118.3 L1773.4,117.8 L1774.3,117.4 L1775.3,116.9 L1776.2,116.4 L1777.1,116.0 L1778.0,115.5 L1778.9,115.0 L1779.9,114.6 L1780.8,114.1 L1781.7,113.7 L1782.6,113.3 L1783.5,112.8 L1784.5,112.4 L1785.4,112.0 L1786.3,111.5 L1787.2,111.1 L1788.1,110.7 L1789.1,110.3 L1790.0,109.9 L1790.9,109.4 L1791.8,109.0 L1792.7,108.6 L1793.7,108.2 L1794.6,107.8 L1795.5,107.5 L1796.4,107.1 L1797.3,106.7 L1798.3,106.3 L1799.2,105.9 L1800.1,105.5 L1801.0,105.2 L1801.9,104.8 L1802.9,104.4 L1803.8,104.1 L1804.7,103.7 L1805.6,103.4 L1806.5,103.0 L1807.5,102.7 L1808.4,102.3 L1809.3,102.0 L1810.2,101.6 L1811.1,101.3 L1812.1,100.9 L1813.0,100.6 L1813.9,100.3 L1814.8,100.0 L1815.7,99.6 L1816.7,99.3 L1817.6,99.0 L1818.5,98.7 L1819.4,98.4 L1820.3,98.1 L1821.3,97.8 L1822.2,97.5 L1823.1,97.2 L1824.0,96.9 L1824.9,96.6 L1825.9,96.3 L1826.8,96.0 L1827.7,95.7 L1828.6,95.4 L1829.5,95.2 L1830.5,94.9 L1831.4,94.6 L1832.3,94.3 L1833.2,94.1 L1834.1,93.8 L1835.1,93.6 L1836.0,93.3 L1836.9,93.0 L1837.8,92.8 L1838.7,92.5 L1839.7,92.3 L1840.6,92.0 L1841.5,91.8 L1842.4,91.6 L1843.3,91.3 L1844.3,91.1 L1845.2,90.9 L1846.1,90.6 L1847.0,90.4 L1847.9,90.2 L1848.9,89.9 L1849.8,89.7 L1850.7,89.5 L1851.6,89.3 L1852.5,89.1 L1853.5,88.9 L1854.4,88.7 L1855.3,88.5 L1856.2,88.3 L1857.1,88.1 L1858.1,87.9 L1859.0,87.7 L1859.9,87.5 L1860.8,87.3 L1861.7,87.1 L1862.7,86.9 L1863.6,86.7 L1864.5,86.5 L1865.4,86.3 L1866.3,86.2 L1867.3,86.0 L1868.2,85.8 L1869.1,85.7 L1870.0,85.5 L1870.9,85.3 L1871.8,85.1 L1872.8,85.0 L1873.7,84.8 L1874.6,84.7 L1875.5,84.5 L1876.4,84.4 L1877.4,84.2 L1878.3,84.1 L1879.2,83.9 L1880.1,83.8 L1881.0,83.6 L1882.0,83.5 L1882.9,83.3 L1883.8,83.2 L1884.7,83.1 L1885.6,82.9 L1886.6,82.8 L1887.5,82.7 L1888.4,82.5 L1889.3,82.4 L1890.2,82.3 L1891.2,82.1 L1892.1,82.0 L1893.0,81.9 L1893.9,81.8 L1894.8,81.7 L1895.8,81.6 L1896.7,81.4 L1897.6,81.3 L1898.5,81.2 L1899.4,81.1 L1900.4,81.0 L1901.3,80.9 L1902.2,80.8 L1903.1,80.7 L1904.0,80.6 L1905.0,80.5 L1905.9,80.4 L1906.8,80.3 L1907.7,80.2 L1908.6,80.1 L1909.6,80.0 L1910.5,79.9 L1911.4,79.8 L1912.3,79.8 L1913.2,79.7 L1914.2,79.6 L1915.1,79.5 L1916.0,79.4 L1916.9,79.3 L1917.8,79.3 L1918.8,79.2 L1919.7,79.1 L1920.6,79.0 L1921.5,79.0 L1922.4,78.9 L1923.4,78.8 L1924.3,78.8 L1925.2,78.7 L1926.1,78.6 L1927.0,78.6 L1928.0,78.5 L1928.9,78.4 L1929.8,78.4 L1930.7,78.3 L1931.6,78.3 L1932.6,78.2 L1933.5,78.1 L1934.4,78.1 L1935.3,78.0 L1936.2,78.0 L1937.2,77.9 L1938.1,77.9 L1939.0,77.8 L1939.9,77.8 L1940.8,77.7 L1941.8,77.7 L1942.7,77.6 L1943.6,77.6 L1944.5,77.5 L1945.4,77.5 L1946.4,77.5 L1947.3,77.4 L1948.2,77.4 L1949.1,77.3 L1950.0,77.3 L1951.0,77.3 L1951.9,77.2 L1952.8,77.2 L1953.7,77.2 L1954.6,77.1 L1955.6,77.1 L1956.5,77.1 L1957.4,77.0 L1958.3,77.0 L1959.2,77.0 L1960.2,76.9 L1961.1,76.9 L1962.0,76.9 L1962.9,76.8 L1963.8,76.8 L1964.8,76.8 L1965.7,76.8 L1966.6,76.7 L1967.5,76.7 L1968.4,76.7 L1969.4,76.7 L1970.3,76.7 L1971.2,76.6 L1972.1,76.6 L1973.0,76.6 L1974.0,76.6 L1974.9,76.6 L1975.8,76.5 L1976.7,76.5 L1977.6,76.5 L1978.6,76.5 L1979.5,76.5 L1980.4,76.5 L1981.3,76.4 L1982.2,76.4 L1983.2,76.4 L1984.1,76.4 L1985.0,76.4 L1985.9,76.4 L1986.8,76.4 L1987.8,76.3 L1988.7,76.3 L1989.6,76.3 L1990.5,76.3 L1991.4,76.3 L1992.4,76.3 L1993.3,76.3 L1994.2,76.3 L1995.1,76.3 L1996.0,76.3 L1997.0,76.2 L1997.9,76.2 L1998.8,76.2 L1999.7,76.2 L2000.6,76.2 L2001.6,76.2 L2002.5,76.2 L2003.4,76.2 L2004.3,76.2 L2005.2,76.2 L2006.2,76.2 L2007.1,76.2 L2008.0,76.2 L2008.9,76.2 L2009.8,76.2 L2010.8,76.2 L2011.7,76.2 L2012.6,76.1 L2013.5,76.1 L2014.4,76.1 L2015.4,76.1 L2016.3,76.1 L2017.2,76.1 L2018.1,76.1 L2019.0,76.1 L2020.0,76.1 L2020.9,76.1 L2021.8,76.1 L2022.7,76.1 L2023.6,76.1 L2024.6,76.1 L2025.5,76.1 L2026.4,76.1 L2027.3,76.1 L2028.2,76.1 L2029.2,76.1 L2030.1,76.1 L2031.0,76.1 L2031.9,76.1 L2032.8,76.1 L2033.8,76.1 L2034.7,76.1 L2035.6,76.1 L2036.5,76.1 L2037.4,76.1 L2038.4,76.1 L2039.3,76.1 L2040.2,76.1 L2041.1,76.1 L2042.0,76.1 L2043.0,76.1 L2043.9,76.1 L2044.8,76.1 L2045.7,76.1 L2046.6,76.1 L2047.6,76.1 L2048.5,76.1 L2049.4,76.1 L2050.3,76.1 L2051.2,76.1 L2052.2,76.1 L2053.1,76.1 L2054.0,76.1 L2054.9,76.1 L2055.8,76.1 L2056.8,76.1 L2057.7,76.1 L2058.6,76.1 L2059.5,76.1 L2060.4,76.1 L2061.4,76.1 L2062.3,76.1 L2063.2,76.1" fill="none" stroke="#2ca02c" stroke-width="6.7" stroke-linecap="square" stroke-linejoin="round"/>
<path d="M1505.8,563.3 L1506.0,563.3 L1506.1,563.2 L1506.3,563.2 L1506.4,563.1 L1506.6,563.1 L1506.7,563.0 L1506.9,562.9 L1507.0,562.9 L1507.2,562.8 L1507.3,562.7 L1507.5,562.6 L1507.7,562.6 L1507.8,562.5 L1508.0,562.4 L1508.1,562.3 L1508.3,562.2 L1508.4,562.1 L1508.6,562.0 L1508.7,561.9 L1508.9,561.8 L1509.1,561.7 L1509.2,561.6 L1509.4,561.5 L1509.5,561.4 L1509.7,561.3 L1509.8,561.2 L1510.0,561.1 L1510.1,561.0 L1510.3,560.9 L1510.4,560.8 L1510.6,560.7 L1510.8,560.6 L1510.9,560.4 L1511.1,560.3 L1511.2,560.2 L1511.4,560.1 L1511.5,560.0 L1511.7,559.9 L1511.8,559.7 L1512.0,559.6 L1512.1,559.5 L1513.1,558.7 L1514.0,557.9 L1514.9,557.1 L1515.8,556.3 L1516.7,555.4 L1517.7,554.5 L1518.6,553.6 L1519.5,552.7 L1520.4,551.7 L1521.3,550.7 L1522.3,549.7 L1523.2,548.7 L1524.1,547.7 L1525.0,546.6 L1525.9,545.5 L1526.9,544.5 L1527.8,543.4 L1528.7,542.2 L1529.6,541.1 L1530.5,540.0 L1531.5,538.8 L1532.4,537.6 L1533.3,536.5 L1534.2,535.3 L1535.1,534.1 L1536.1,532.8 L1537.0,531.6 L1537.9,530.4 L1538.8,529.1 L1539.7,527.9 L1540.7,526.6 L1541.6,525.3 L1542.5,524.0 L1543.4,522.7 L1544.3,521.4 L1545.3,520.1 L1546.2,518.7 L1547.1,517.4 L1548.0,516.1 L1548.9,514.7 L1549.9,513.3 L1550.8,512.0 L1551.7,510.6 L1552.6,509.2 L1553.5,507.8 L1554.5,506.4 L1555.4,505.0 L1556.3,503.6 L1557.2,502.1 L1558.1,500.7 L1559.1,499.3 L1560.0,497.8 L1560.9,496.4 L1561.8,494.9 L1562.7,493.5 L1563.7,492.0 L1564.6,490.5 L1565.5,489.1 L1566.4,487.6 L1567.3,486.1 L1568.3,484.6 L1569.2,483.1 L1570.1,481.6 L1571.0,480.1 L1571.9,478.6 L1572.9,477.1 L1573.8,475.5 L1574.7,474.0 L1575.6,472.5 L1576.5,470.9 L1577.5,469.4 L1578.4,467.9 L1579.3,466.3 L1580.2,464.8 L1581.1,463.2 L1582.1,461.7 L1583.0,460.1 L1583.9,458.5 L1584.8,457.0 L1585.7,455.4 L1586.7,453.8 L1587.6,452.3 L1588.5,450.7 L1589.4,449.1 L1590.3,447.5 L1591.3,446.0 L1592.2,444.4 L1593.1,442.8 L1594.0,441.2 L1594.9,439.6 L1595.9,438.0 L1596.8,436.4 L1597.7,434.8 L1598.6,433.2 L1599.5,431.6 L1600.5,430.0 L1601.4,428.4 L1602.3,426.8 L1603.2,425.2 L1604.1,423.6 L1605.1,422.0 L1606.0,420.4 L1606.9,418.8 L1607.8,417.2 L1608.7,415.6 L1609.7,413.9 L1610.6,412.3 L1611.5,410.7 L1612.4,409.1 L1613.3,407.5 L1614.3,405.9 L1615.2,404.3 L1616.1,402.7 L1617.0,401.0 L1617.9,399.4 L1618.9,397.8 L1619.8,396.2 L1620.7,394.6 L1621.6,393.0 L1622.5,391.4 L1623.5,389.8 L1624.4,388.2 L1625.3,386.5 L1626.2,384.9 L1627.1,383.3 L1628.1,381.7 L1629.0,380.1 L1629.9,378.5 L1630.8,376.9 L1631.7,375.3 L1632.7,373.7 L1633.6,372.1 L1634.5,370.5 L1635.4,368.9 L1636.3,367.3 L1637.3,365.7 L1638.2,364.1 L1639.1,362.5 L1640.0,360.9 L1640.9,359.3 L1641.9,357.7 L1642.8,356.2 L1643.7,354.6 L1644.6,353.0 L1645.5,351.4 L1646.5,349.8 L1647.4,348.3 L1648.3,346.7 L1649.2,345.1 L1650.1,343.5 L1651.1,342.0 L1652.0,340.4 L1652.9,338.9 L1653.8,337.3 L1654.7,335.7 L1655.7,334.2 L1656.6,332.6 L1657.5,331.1 L1658.4,329.5 L1659.3,328.0 L1660.3,326.5 L1661.2,324.9 L1662.1,323.4 L1663.0,321.9 L1663.9,320.3 L1664.9,318.8 L1665.8,317.3 L1666.7,315.8 L1667.6,314.2 L1668.5,312.7 L1669.5,311.2 L1670.4,309.7 L1671.3,308.2 L1672.2,306.7 L1673.1,305.2 L1674.1,303.7 L1675.0,302.2 L1675.9,300.7 L1676.8,299.3 L1677.7,297.8 L1678.7,296.3 L1679.6,294.8 L1680.5,293.4 L1681.4,291.9 L1682.3,290.4 L1683.3,289.0 L1684.2,287.5 L1685.1,286.1 L1686.0,284.6 L1686.9,283.2 L1687.9,281.8 L1688.8,280.3 L1689.7,278.9 L1690.6,277.5 L1691.5,276.1 L1692.5,274.7 L1693.4,273.2 L1694.3,271.8 L1695.2,270.4 L1696.1,269.0 L1697.1,267.6 L1698.0,266.3 L1698.9,264.9 L1699.8,263.5 L1700.7,262.1 L1701.7,260.7 L1702.6,259.4 L1703.5,258.0 L1704.4,256.7 L1705.3,255.3 L1706.3,254.0 L1707.2,252.6 L1708.1,251.3 L1709.0,249.9 L1709.9,248.6 L1710.9,247.3 L1711.8,246.0 L1712.7,244.7 L1713.6,243.3 L1714.5,242.0 L1715.5,240.7 L1716.4,239.4 L1717.3,238.2 L1718.2,236.9 L1719.1,235.6 L1720.1,234.3 L1721.0,233.0 L1721.9,231.8 L1722.8,230.5 L1723.7,229.3 L1724.7,228.0 L1725.6,226.8 L1726.5,225.5 L1727.4,224.3 L1728.3,223.1 L1729.3,221.8 L1730.2,220.6 L1731.1,219.4 L1732.0,218.2 L1732.9,217.0 L1733.9,215.8 L1734.8,214.6 L1735.7,213.4 L1736.6,212.2 L1737.5,211.1 L1738.5,209.9 L1739.4,208.7 L1740.3,207.6 L1741.2,206.4 L1742.1,205.3 L1743.1,204.1 L1744.0,203.0 L1744.9,201.9 L1745.8,200.7 L1746.7,199.6 L1747.7,198.5 L1748.6,197.4 L1749.5,196.3 L1750.4,195.2 L1751.3,194.1 L1752.3,193.0 L1753.2,191.9 L1754.1,190.8 L1755.0,189.8 L1755.9,188.7 L1756.9,187.6 L1757.8,186.6 L1758.7,185.5 L1759.6,184.5 L1760.5,183.5 L1761.5,182.4 L1762.4,181.4 L1763.3,180.4 L1764.2,179.4 L1765.1,178.3 L1766.1,177.3 L1767.0,176.3 L1767.9,175.3 L1768.8,174.4 L1769.7,173.4 L1770.7,172.4 L1771.6,171.4 L1772.5,170.5 L1773.4,169.5 L1774.3,168.6 L1775.3,167.6 L1776.2,166.7 L1777.1,165.7 L1778.0,164.8 L1778.9,163.9 L1779.9,163.0 L1780.8,162.0 L1781.7,161.1 L1782.6,160.2 L1783.5,159.3 L1784.5,158.4 L1785.4,157.6 L1786.3,156.7 L1787.2,155.8 L1788.1,154.9 L1789.1,154.1 L1790.0,153.2 L1790.9,152.4 L1791.8,151.5 L1792.7,150.7 L1793.7,149.8 L1794.6,149.0 L1795.5,148.2 L1796.4,147.4 L1797.3,146.6 L1798.3,145.8 L1799.2,145.0 L1800.1,144.2 L1801.0,143.4 L1801.9,142.6 L1802.9,141.8 L1803.8,141.0 L1804.7,140.3 L1805.6,139.5 L1806.5,138.8 L1807.5,138.0 L1808.4,137.3 L1809.3,136.5 L1810.2,135.8 L1811.1,135.1 L1812.1,134.3 L1813.0,133.6 L1813.9,132.9 L1814.8,132.2 L1815.7,131.5 L1816.7,130.8 L1817.6,130.1 L1818.5,129.4 L1819.4,128.8 L1820.3,128.1 L1821.3,127.4 L1822.2,126.8 L1823.1,126.1 L1824.0,125.5 L1824.9,124.8 L1825.9,124.2 L1826.8,123.5 L1827.7,122.9 L1828.6,122.3 L1829.5,121.7 L1830.5,121.0 L1831.4,120.4 L1832.3,119.8 L1833.2,119.2 L1834.1,118.6 L1835.1,118.1 L1836.0,117.5 L1836.9,116.9 L1837.8,116.3 L1838.7,115.8 L1839.7,115.2 L1840.6,114.6 L1841.5,114.1 L1842.4,113.5 L1843.3,113.0 L1844.3,112.5 L1845.2,111.9 L1846.1,111.4 L1847.0,110.9 L1847.9,110.4 L1848.9,109.9 L1849.8,109.4 L1850.7,108.9 L1851.6,108.4 L1852.5,107.9 L1853.5,107.4 L1854.4,106.9 L1855.3,106.4 L1856.2,106.0 L1857.1,105.5 L1858.1,105.0 L1859.0,104.6 L1859.9,104.1 L1860.8,103.7 L1861.7,103.2 L1862.7,102.8 L1863.6,102.4 L1864.5,101.9 L1865.4,101.5 L1866.3,101.1 L1867.3,100.7 L1868.2,100.3 L1869.1,99.9 L1870.0,99.5 L1870.9,99.1 L1871.8,98.7 L1872.8,98.3 L1873.7,97.9 L1874.6,97.5 L1875.5,97.2 L1876.4,96.8 L1877.4,96.4 L1878.3,96.1 L1879.2,95.7 L1880.1,95.4 L1881.0,95.0 L1882.0,94.7 L1882.9,94.3 L1883.8,94.0 L1884.7,93.7 L1885.6,93.3 L1886.6,93.0 L1887.5,92.7 L1888.4,92.4 L1889.3,92.1 L1890.2,91.8 L1891.2,91.5 L1892.1,91.2 L1893.0,90.9 L1893.9,90.6 L1894.8,90.3 L1895.8,90.0 L1896.7,89.7 L1897.6,89.5 L1898.5,89.2 L1899.4,88.9 L1900.4,88.7 L1901.3,88.4 L1902.2,88.1 L1903.1,87.9 L1904.0,87.6 L1905.0,87.4 L1905.9,87.2 L1906.8,86.9 L1907.7,86.7 L1908.6,86.5 L1909.6,86.2 L1910.5,86.0 L1911.4,85.8 L1912.3,85.6 L1913.2,85.4 L1914.2,85.1 L1915.1,84.9 L1916.0,84.7 L1916.9,84.5 L1917.8,84.3 L1918.8,84.2 L1919.7,84.0 L1920.6,83.8 L1921.5,83.6 L1922.4,83.4 L1923.4,83.2 L1924.3,83.1 L1925.2,82.9 L1926.1,82.7 L1927.0,82.6 L1928.0,82.4 L1928.9,82.2 L1929.8,82.1 L1930.7,81.9 L1931.6,81.8 L1932.6,81.6 L1933.5,81.5 L1934.4,81.3 L1935.3,81.2 L1936.2,81.1 L1937.2,80.9 L1938.1,80.8 L1939.0,80.7 L1939.9,80.5 L1940.8,80.4 L1941.8,80.3 L1942.7,80.2 L1943.6,80.0 L1944.5,79.9 L1945.4,79.8 L1946.4,79.7 L1947.3,79.6 L1948.2,79.5 L1949.1,79.4 L1950.0,79.3 L1951.0,79.2 L1951.9,79.1 L1952.8,79.0 L1953.7,78.9 L1954.6,78.8 L1955.6,78.7 L1956.5,78.7 L1957.4,78.6 L1958.3,78.5 L1959.2,78.4 L1960.2,78.3 L1961.1,78.3 L1962.0,78.2 L1962.9,78.1 L1963.8,78.0 L1964.8,78.0 L1965.7,77.9 L1966.6,77.8 L1967.5,77.8 L1968.4,77.7 L1969.4,77.7 L1970.3,77.6 L1971.2,77.5 L1972.1,77.5 L1973.0,77.4 L1974.0,77.4 L1974.9,77.3 L1975.8,77.3 L1976.7,77.2 L1977.6,77.2 L1978.6,77.1 L1979.5,77.1 L1980.4,77.1 L1981.3,77.0 L1982.2,77.0 L1983.2,76.9 L1984.1,76.9 L1985.0,76.9 L1985.9,76.8 L1986.8,76.8 L1987.8,76.8 L1988.7,76.7 L1989.6,76.7 L1990.5,76.7 L1991.4,76.6 L1992.4,76.6 L1993.3,76.6 L1994.2,76.6 L1995.1,76.5 L1996.0,76.5 L1997.0,76.5 L1997.9,76.5 L1998.8,76.5 L1999.7,76.4 L2000.6,76.4 L2001.6,76.4 L2002.5,76.4 L2003.4,76.4 L2004.3,76.3 L2005.2,76.3 L2006.2,76.3 L2007.1,76.3 L2008.0,76.3 L2008.9,76.3 L2009.8,76.3 L2010.8,76.3 L2011.7,76.2 L2012.6,76.2 L2013.5,76.2 L2014.4,76.2 L2015.4,76.2 L2016.3,76.2 L2017.2,76.2 L2018.1,76.2 L2019.0,76.2 L2020.0,76.2 L2020.9,76.2 L2021.8,76.2 L2022.7,76.2 L2023.6,76.2 L2024.6,76.1 L2025.5,76.1 L2026.4,76.1 L2027.3,76.1 L2028.2,76.1 L2029.2,76.1 L2030.1,76.1 L2031.0,76.1 L2031.9,76.1 L2032.8,76.1 L2033.8,76.1 L2034.7,76.1 L2035.6,76.1 L2036.5,76.1 L2037.4,76.1 L2038.4,76.1 L2039.3,76.1 L2040.2,76.1 L2041.1,76.1 L2042.0,76.1 L2043.0,76.1 L2043.9,76.1 L2044.8,76.1 L2045.7,76.1 L2046.6,76.1 L2047.6,76.1 L2048.5,76.1 L2049.4,76.1 L2050.3,76.1 L2051.2,76.1 L2052.2,76.1 L2053.1,76.1 L2054.0,76.1 L2054.9,76.1 L2055.8,76.1 L2056.8,76.1 L2057.7,76.1 L2058.6,76.1 L2059.5,76.1 L2060.4,76.1 L2061.4,76.1 L2062.3,76.1 L2063.2,76.1" fill="none" stroke="#d62728" stroke-width="6.7" stroke-linecap="square" stroke-linejoin="round"/>
<path d="M1505.8,563.3 L1506.0,563.1 L1506.1,563.2 L1506.3,563.3 L1506.4,563.3 L1506.6,563.1 L1506.7,563.1 L1506.9,563.0 L1507.0,562.9 L1507.2,562.8 L1507.3,562.8 L1507.5,562.7 L1507.7,562.7 L1507.8,562.6 L1508.0,562.5 L1508.1,562.4 L1508.3,562.4 L1508.4,562.3 L1508.6,562.2 L1508.7,562.1 L1508.9,562.0 L1509.1,561.9 L1509.2,561.9 L1509.4,561.8 L1509.5,561.7 L1509.7,561.6 L1509.8,561.5 L1510.0,561.4 L1510.1,561.3 L1510.3,561.2 L1510.4,561.1 L1510.6,561.0 L1510.8,560.9 L1510.9,560.8 L1511.1,560.7 L1511.2,560.6 L1511.4,560.5 L1511.5,560.4 L1511.7,560.3 L1511.8,560.2 L1512.0,560.1 L1512.1,560.0 L1513.1,559.3 L1514.0,558.7 L1514.9,557.9 L1515.8,557.2 L1516.7,556.5 L1517.7,555.7 L1518.6,554.9 L1519.5,554.1 L1520.4,553.2 L1521.3,552.4 L1522.3,551.5 L1523.2,550.6 L1524.1,549.7 L1525.0,548.8 L1525.9,547.9 L1526.9,546.9 L1527.8,546.0 L1528.7,545.0 L1529.6,544.0 L1530.5,543.0 L1531.5,542.0 L1532.4,541.0 L1533.3,540.0 L1534.2,538.9 L1535.1,537.9 L1536.1,536.8 L1537.0,535.8 L1537.9,534.7 L1538.8,533.6 L1539.7,532.5 L1540.7,531.4 L1541.6,530.2 L1542.5,529.1 L1543.4,528.0 L1544.3,526.8 L1545.3,525.7 L1546.2,524.5 L1547.1,523.3 L1548.0,522.2 L1548.9,521.0 L1549.9,519.8 L1550.8,518.6 L1551.7,517.4 L1552.6,516.1 L1553.5,514.9 L1554.5,513.7 L1555.4,512.5 L1556.3,511.2 L1557.2,510.0 L1558.1,508.7 L1559.1,507.4 L1560.0,506.2 L1560.9,504.9 L1561.8,503.6 L1562.7,502.3 L1563.7,501.0 L1564.6,499.7 L1565.5,498.4 L1566.4,497.1 L1567.3,495.8 L1568.3,494.5 L1569.2,493.2 L1570.1,491.8 L1571.0,490.5 L1571.9,489.2 L1572.9,487.8 L1573.8,486.5 L1574.7,485.1 L1575.6,483.7 L1576.5,482.4 L1577.5,481.0 L1578.4,479.6 L1579.3,478.3 L1580.2,476.9 L1581.1,475.5 L1582.1,474.1 L1583.0,472.7 L1583.9,471.3 L1584.8,469.9 L1585.7,468.5 L1586.7,467.1 L1587.6,465.7 L1588.5,464.3 L1589.4,462.9 L1590.3,461.5 L1591.3,460.1 L1592.2,458.6 L1593.1,457.2 L1594.0,455.8 L1594.9,454.3 L1595.9,452.9 L1596.8,451.5 L1597.7,450.0 L1598.6,448.6 L1599.5,447.1 L1600.5,445.7 L1601.4,444.2 L1602.3,442.8 L1603.2,441.3 L1604.1,439.9 L1605.1,438.4 L1606.0,436.9 L1606.9,435.5 L1607.8,434.0 L1608.7,432.5 L1609.7,431.1 L1610.6,429.6 L1611.5,428.1 L1612.4,426.7 L1613.3,425.2 L1614.3,423.7 L1615.2,422.2 L1616.1,420.7 L1617.0,419.3 L1617.9,417.8 L1618.9,416.3 L1619.8,414.8 L1620.7,413.3 L1621.6,411.8 L1622.5,410.3 L1623.5,408.9 L1624.4,407.4 L1625.3,405.9 L1626.2,404.4 L1627.1,402.9 L1628.1,401.4 L1629.0,399.9 L1629.9,398.4 L1630.8,396.9 L1631.7,395.4 L1632.7,393.9 L1633.6,392.4 L1634.5,390.9 L1635.4,389.4 L1636.3,387.9 L1637.3,386.4 L1638.2,385.0 L1639.1,383.5 L1640.0,382.0 L1640.9,380.5 L1641.9,379.0 L1642.8,377.5 L1643.7,376.0 L1644.6,374.5 L1645.5,373.0 L1646.5,371.5 L1647.4,370.0 L1648.3,368.5 L1649.2,367.0 L1650.1,365.5 L1651.1,364.0 L1652.0,362.5 L1652.9,361.1 L1653.8,359.6 L1654.7,358.1 L1655.7,356.6 L1656.6,355.1 L1657.5,353.6 L1658.4,352.1 L1659.3,350.7 L1660.3,349.2 L1661.2,347.7 L1662.1,346.2 L1663.0,344.7 L1663.9,343.3 L1664.9,341.8 L1665.8,340.3 L1666.7,338.8 L1667.6,337.4 L1668.5,335.9 L1669.5,334.4 L1670.4,333.0 L1671.3,331.5 L1672.2,330.0 L1673.1,328.6 L1674.1,327.1 L1675.0,325.7 L1675.9,324.2 L1676.8,322.8 L1677.7,321.3 L1678.7,319.9 L1679.6,318.4 L1680.5,317.0 L1681.4,315.5 L1682.3,314.1 L1683.3,312.6 L1684.2,311.2 L1685.1,309.8 L1686.0,308.3 L1686.9,306.9 L1687.9,305.5 L1688.8,304.1 L1689.7,302.6 L1690.6,301.2 L1691.5,299.8 L1692.5,298.4 L1693.4,297.0 L1694.3,295.6 L1695.2,294.2 L1696.1,292.8 L1697.1,291.4 L1698.0,290.0 L1698.9,288.6 L1699.8,287.2 L1700.7,285.8 L1701.7,284.4 L1702.6,283.0 L1703.5,281.6 L1704.4,280.3 L1705.3,278.9 L1706.3,277.5 L1707.2,276.1 L1708.1,274.8 L1709.0,273.4 L1709.9,272.1 L1710.9,270.7 L1711.8,269.4 L1712.7,268.0 L1713.6,266.7 L1714.5,265.3 L1715.5,264.0 L1716.4,262.7 L1717.3,261.3 L1718.2,260.0 L1719.1,258.7 L1720.1,257.4 L1721.0,256.0 L1721.9,254.7 L1722.8,253.4 L1723.7,252.1 L1724.7,250.8 L1725.6,249.5 L1726.5,248.2 L1727.4,246.9 L1728.3,245.7 L1729.3,244.4 L1730.2,243.1 L1731.1,241.8 L1732.0,240.6 L1732.9,239.3 L1733.9,238.0 L1734.8,236.8 L1735.7,235.5 L1736.6,234.3 L1737.5,233.0 L1738.5,231.8 L1739.4,230.5 L1740.3,229.3 L1741.2,228.1 L1742.1,226.9 L1743.1,225.7 L1744.0,224.4 L1744.9,223.2 L1745.8,222.0 L1746.7,220.8 L1747.7,219.6 L1748.6,218.4 L1749.5,217.2 L1750.4,216.1 L1751.3,214.9 L1752.3,213.7 L1753.2,212.5 L1754.1,211.4 L1755.0,210.2 L1755.9,209.1 L1756.9,207.9 L1757.8,206.8 L1758.7,205.6 L1759.6,204.5 L1760.5,203.4 L1761.5,202.2 L1762.4,201.1 L1763.3,200.0 L1764.2,198.9 L1765.1,197.8 L1766.1,196.7 L1767.0,195.6 L1767.9,194.5 L1768.8,193.4 L1769.7,192.3 L1770.7,191.2 L1771.6,190.2 L1772.5,189.1 L1773.4,188.0 L1774.3,187.0 L1775.3,185.9 L1776.2,184.9 L1777.1,183.8 L1778.0,182.8 L1778.9,181.8 L1779.9,180.7 L1780.8,179.7 L1781.7,178.7 L1782.6,177.7 L1783.5,176.7 L1784.5,175.7 L1785.4,174.7 L1786.3,173.7 L1787.2,172.7 L1788.1,171.7 L1789.1,170.8 L1790.0,169.8 L1790.9,168.8 L1791.8,167.9 L1792.7,166.9 L1793.7,166.0 L1794.6,165.0 L1795.5,164.1 L1796.4,163.2 L1797.3,162.2 L1798.3,161.3 L1799.2,160.4 L1800.1,159.5 L1801.0,158.6 L1801.9,157.7 L1802.9,156.8 L1803.8,155.9 L1804.7,155.0 L1805.6,154.2 L1806.5,153.3 L1807.5,152.4 L1808.4,151.6 L1809.3,150.7 L1810.2,149.9 L1811.1,149.0 L1812.1,148.2 L1813.0,147.3 L1813.9,146.5 L1814.8,145.7 L1815.7,144.9 L1816.7,144.1 L1817.6,143.2 L1818.5,142.4 L1819.4,141.7 L1820.3,140.9 L1821.3,140.1 L1822.2,139.3 L1823.1,138.5 L1824.0,137.8 L1824.9,137.0 L1825.9,136.2 L1826.8,135.5 L1827.7,134.7 L1828.6,134.0 L1829.5,133.3 L1830.5,132.5 L1831.4,131.8 L1832.3,131.1 L1833.2,130.4 L1834.1,129.7 L1835.1,129.0 L1836.0,128.3 L1836.9,127.6 L1837.8,126.9 L1838.7,126.2 L1839.7,125.6 L1840.6,124.9 L1841.5,124.2 L1842.4,123.6 L1843.3,122.9 L1844.3,122.3 L1845.2,121.6 L1846.1,121.0 L1847.0,120.4 L1847.9,119.7 L1848.9,119.1 L1849.8,118.5 L1850.7,117.9 L1851.6,117.3 L1852.5,116.7 L1853.5,116.1 L1854.4,115.5 L1855.3,114.9 L1856.2,114.4 L1857.1,113.8 L1858.1,113.2 L1859.0,112.7 L1859.9,112.1 L1860.8,111.6 L1861.7,111.0 L1862.7,110.5 L1863.6,109.9 L1864.5,109.4 L1865.4,108.9 L1866.3,108.4 L1867.3,107.9 L1868.2,107.4 L1869.1,106.9 L1870.0,106.4 L1870.9,105.9 L1871.8,105.4 L1872.8,104.9 L1873.7,104.4 L1874.6,103.9 L1875.5,103.5 L1876.4,103.0 L1877.4,102.6 L1878.3,102.1 L1879.2,101.7 L1880.1,101.2 L1881.0,100.8 L1882.0,100.4 L1882.9,99.9 L1883.8,99.5 L1884.7,99.1 L1885.6,98.7 L1886.6,98.3 L1887.5,97.9 L1888.4,97.5 L1889.3,97.1 L1890.2,96.7 L1891.2,96.3 L1892.1,95.9 L1893.0,95.5 L1893.9,95.2 L1894.8,94.8 L1895.8,94.5 L1896.7,94.1 L1897.6,93.7 L1898.5,93.4 L1899.4,93.1 L1900.4,92.7 L1901.3,92.4 L1902.2,92.1 L1903.1,91.7 L1904.0,91.4 L1905.0,91.1 L1905.9,90.8 L1906.8,90.5 L1907.7,90.2 L1908.6,89.9 L1909.6,89.6 L1910.5,89.3 L1911.4,89.0 L1912.3,88.7 L1913.2,88.5 L1914.2,88.2 L1915.1,87.9 L1916.0,87.7 L1916.9,87.4 L1917.8,87.1 L1918.8,86.9 L1919.7,86.6 L1920.6,86.4 L1921.5,86.2 L1922.4,85.9 L1923.4,85.7 L1924.3,85.5 L1925.2,85.2 L1926.1,85.0 L1927.0,84.8 L1928.0,84.6 L1928.9,84.4 L1929.8,84.2 L1930.7,84.0 L1931.6,83.8 L1932.6,83.6 L1933.5,83.4 L1934.4,83.2 L1935.3,83.0 L1936.2,82.8 L1937.2,82.6 L1938.1,82.5 L1939.0,82.3 L1939.9,82.1 L1940.8,81.9 L1941.8,81.8 L1942.7,81.6 L1943.6,81.5 L1944.5,81.3 L1945.4,81.2 L1946.4,81.0 L1947.3,80.9 L1948.2,80.7 L1949.1,80.6 L1950.0,80.5 L1951.0,80.3 L1951.9,80.2 L1952.8,80.1 L1953.7,79.9 L1954.6,79.8 L1955.6,79.7 L1956.5,79.6 L1957.4,79.5 L1958.3,79.4 L1959.2,79.3 L1960.2,79.2 L1961.1,79.1 L1962.0,79.0 L1962.9,78.9 L1963.8,78.8 L1964.8,78.7 L1965.7,78.6 L1966.6,78.5 L1967.5,78.4 L1968.4,78.3 L1969.4,78.2 L1970.3,78.2 L1971.2,78.1 L1972.1,78.0 L1973.0,77.9 L1974.0,77.9 L1974.9,77.8 L1975.8,77.7 L1976.7,77.7 L1977.6,77.6 L1978.6,77.5 L1979.5,77.5 L1980.4,77.4 L1981.3,77.4 L1982.2,77.3 L1983.2,77.3 L1984.1,77.2 L1985.0,77.2 L1985.9,77.1 L1986.8,77.1 L1987.8,77.0 L1988.7,77.0 L1989.6,76.9 L1990.5,76.9 L1991.4,76.9 L1992.4,76.8 L1993.3,76.8 L1994.2,76.8 L1995.1,76.7 L1996.0,76.7 L1997.0,76.7 L1997.9,76.6 L1998.8,76.6 L1999.7,76.6 L2000.6,76.5 L2001.6,76.5 L2002.5,76.5 L2003.4,76.5 L2004.3,76.4 L2005.2,76.4 L2006.2,76.4 L2007.1,76.4 L2008.0,76.4 L2008.9,76.4 L2009.8,76.3 L2010.8,76.3 L2011.7,76.3 L2012.6,76.3 L2013.5,76.3 L2014.4,76.3 L2015.4,76.3 L2016.3,76.2 L2017.2,76.2 L2018.1,76.2 L2019.0,76.2 L2020.0,76.2 L2020.9,76.2 L2021.8,76.2 L2022.7,76.2 L2023.6,76.2 L2024.6,76.2 L2025.5,76.2 L2026.4,76.2 L2027.3,76.1 L2028.2,76.1 L2029.2,76.1 L2030.1,76.1 L2031.0,76.1 L2031.9,76.1 L2032.8,76.1 L2033.8,76.1 L2034.7,76.1 L2035.6,76.1 L2036.5,76.1 L2037.4,76.1 L2038.4,76.1 L2039.3,76.1 L2040.2,76.1 L2041.1,76.1 L2042.0,76.1 L2043.0,76.1 L2043.9,76.1 L2044.8,76.1 L2045.7,76.1 L2046.6,76.1 L2047.6,76.1 L2048.5,76.1 L2049.4,76.1 L2050.3,76.1 L2051.2,76.1 L2052.2,76.1 L2053.1,76.1 L2054.0,76.1 L2054.9,76.1 L2055.8,76.1 L2056.8,76.1 L2057.7,76.1 L2058.6,76.1 L2059.5,76.1 L2060.4,76.1 L2061.4,76.1 L2062.3,76.1 L2063.2,76.1" fill="none" stroke="#9467bd" stroke-width="6.7" stroke-linecap="square" stroke-linejoin="round"/>
</g>
<path d="M1505.80,563.3 v7.2 M1660.63,563.3 v7.2 M1815.47,563.3 v7.2 M1970.30,563.3 v7.2" stroke="#000" stroke-width="3.4" fill="none"/>
<path d="M1536.77,563.3 v4.2 M1567.73,563.3 v4.2 M1598.70,563.3 v4.2 M1629.67,563.3 v4.2 M1691.60,563.3 v4.2 M1722.57,563.3 v4.2 M1753.53,563.3 v4.2 M1784.50,563.3 v4.2 M1846.43,563.3 v4.2 M1877.40,563.3 v4.2 M1908.37,563.3 v4.2 M1939.33,563.3 v4.2 M2001.27,563.3 v4.2 M2032.23,563.3 v4.2 M2063.20,563.3 v4.2" stroke="#000" stroke-width="2.5" fill="none"/>
<path d="M1505.8,563.30 h-7.2 M1505.8,465.86 h-7.2 M1505.8,368.42 h-7.2 M1505.8,270.98 h-7.2 M1505.8,173.54 h-7.2 M1505.8,76.10 h-7.2" stroke="#000" stroke-width="3.4" fill="none"/>
<path d="M1505.8,538.94 h-4.2 M1505.8,514.58 h-4.2 M1505.8,490.22 h-4.2 M1505.8,441.50 h-4.2 M1505.8,417.14 h-4.2 M1505.8,392.78 h-4.2 M1505.8,344.06 h-4.2 M1505.8,319.70 h-4.2 M1505.8,295.34 h-4.2 M1505.8,246.62 h-4.2 M1505.8,222.26 h-4.2 M1505.8,197.90 h-4.2 M1505.8,149.18 h-4.2 M1505.8,124.82 h-4.2 M1505.8,100.46 h-4.2" stroke="#000" stroke-width="2.5" fill="none"/>
<rect x="1505.8" y="76.1" width="557.40" height="487.20" fill="none" stroke="#000" stroke-width="3.4" stroke-linejoin="miter" stroke-linecap="square"/>
<rect x="1816.5" y="281.2" width="228.2" height="264" rx="6" ry="6" fill="#fff" fill-opacity="0.8" stroke="#cccccc" stroke-width="3.4"/>
<g font-family="'Liberation Sans', Arial, sans-serif" font-size="36.5" fill="#000">
<path d="M1830.4,308.2 h72.4" stroke="#1f77b4" stroke-width="6.7" stroke-linecap="square"/>
<text x="1930.5" y="320.8">x=0.1</text>
<path d="M1830.4,359.0 h72.4" stroke="#ff7f0e" stroke-width="6.7" stroke-linecap="square"/>
<text x="1930.5" y="371.6">x=0.5</text>
<path d="M1830.4,409.8 h72.4" stroke="#2ca02c" stroke-width="6.7" stroke-linecap="square"/>
<text x="1930.5" y="422.4">x=1</text>
<path d="M1830.4,460.6 h72.4" stroke="#d62728" stroke-width="6.7" stroke-linecap="square"/>
<text x="1930.5" y="473.2">x=5</text>
<path d="M1830.4,511.4 h72.4" stroke="#9467bd" stroke-width="6.7" stroke-linecap="square"/>
<text x="1930.5" y="524.0">x=100</text>
<text x="1505.4" y="604.8" text-anchor="middle">0°</text>
<text x="1660.2" y="604.8" text-anchor="middle">50°</text>
<text x="1815.1" y="604.8" text-anchor="middle">100°</text>
<text x="1969.9" y="604.8" text-anchor="middle">150°</text>
<text x="1490.8" y="576.3" text-anchor="end">0.0</text>
<text x="1490.8" y="478.9" text-anchor="end">0.2</text>
<text x="1490.8" y="381.4" text-anchor="end">0.4</text>
<text x="1490.8" y="284.0" text-anchor="end">0.6</text>
<text x="1490.8" y="186.5" text-anchor="end">0.8</text>
<text x="1490.8" y="89.1" text-anchor="end">1.0</text>
<text x="1784.5" y="648.6" text-anchor="middle" font-size="36">Contact angle (<tspan font-family="DejaVu Sans" font-style="italic">θ</tspan>)</text>
<g transform="translate(1418.8,373.2) rotate(-90)" font-family="DejaVu Sans">
<text x="0" y="0" font-style="italic" font-size="36.0">σ</text>
<text x="22.78" y="5.92" font-size="25.20">a</text>
<text x="38.19" y="5.92" font-size="25.20">p</text>
<text x="54.16" y="5.92" font-size="25.20">p</text>
<text x="71.12" y="0" font-size="36.0">/</text>
<text x="83.22" y="0" font-style="italic" font-size="36.0">σ</text>
</g>
</g>
</g>
<g font-family="'Liberation Sans', Arial, sans-serif" font-size="47" font-weight="bold" fill="#000">
<text x="-3.4" y="32.5">a</text>
<text x="693" y="33.2">b</text>
<text x="1404.5" y="33.2">c</text>
</g>
</svg>
</body></html>
